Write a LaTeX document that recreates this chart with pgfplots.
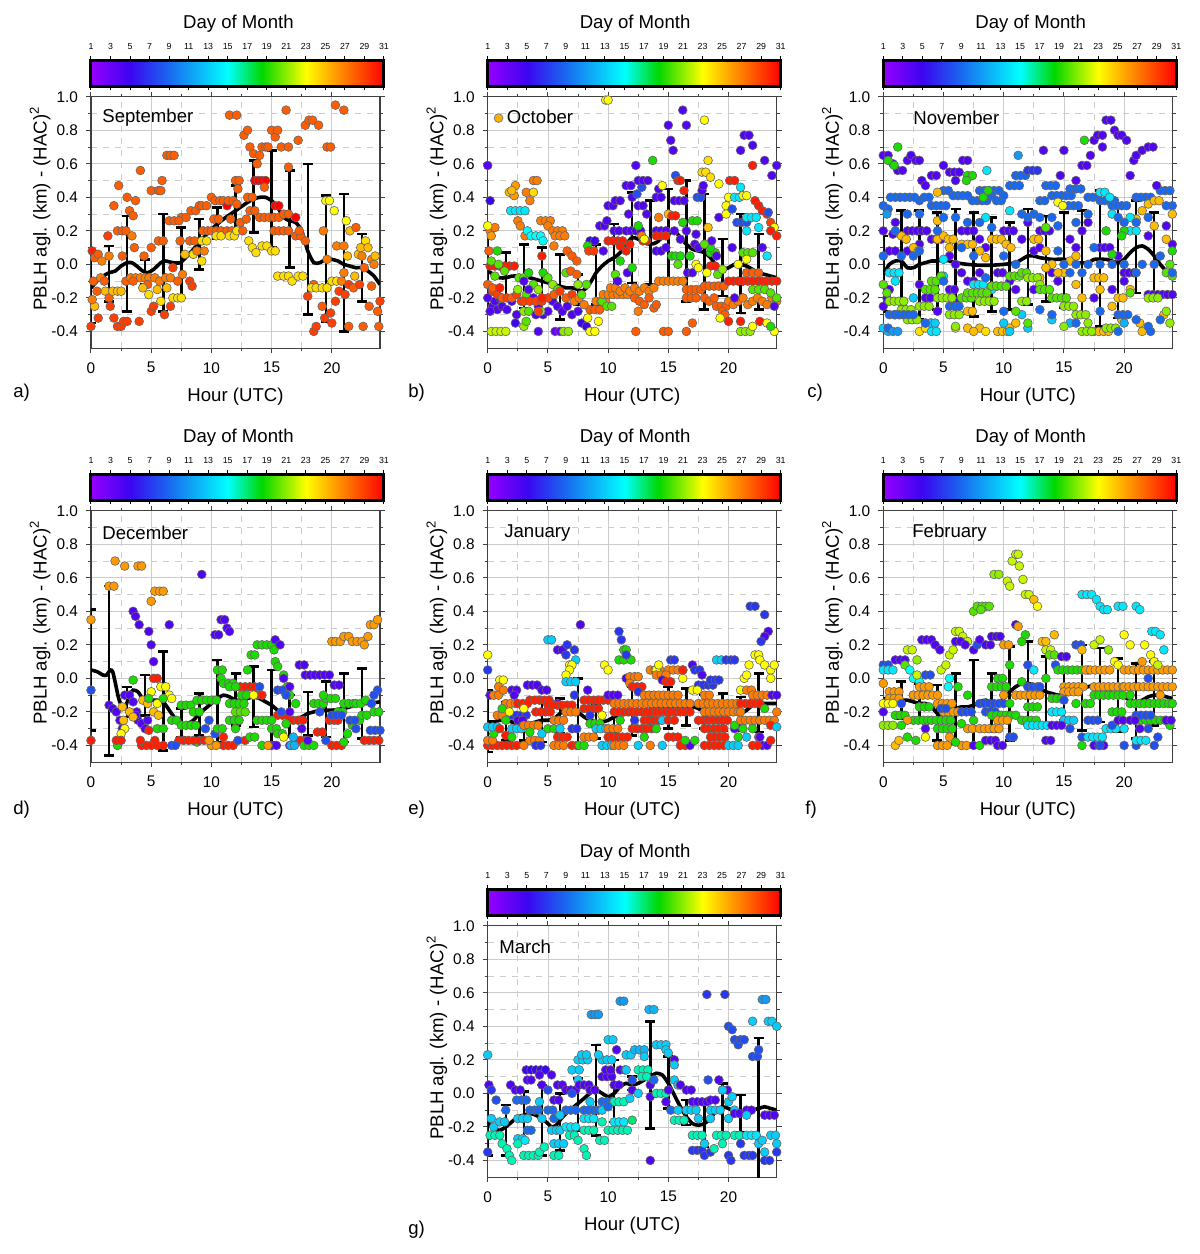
\documentclass[border=0pt]{standalone}
\usepackage{fontspec}
\setmainfont{Liberation Sans}
\usepackage{pgfplots}
\usepackage{pgfplotstable}
\usetikzlibrary{calc}
\pgfplotsset{compat=1.18}

\pgfplotsset{
  colormap={day}{rgb255(0cm)=(150,0,255) rgb255(4cm)=(60,5,240) rgb255(8cm)=(25,105,240) rgb255(14cm)=(0,255,255) rgb255(17.5cm)=(0,215,0) rgb255(22cm)=(255,255,0) rgb255(25cm)=(255,155,0) rgb255(30cm)=(255,0,0)},
  panel/.style={
    anchor=north west, width=144.5pt, height=125.75pt, scale only axis,
    xmin=0, xmax=24, ymin=-0.5, ymax=1.0,
    xtick={0,5,...,20}, ytick={-0.4,-0.2,...,1.0},
    minor x tick num=1, minor y tick num=1,
    grid=both,
    major grid style={gray!40, line width=0.4pt},
    minor grid style={gray!40, dashed, line width=0.4pt},
    tick align=outside, major tick length=2.5pt, minor tick length=1.6pt,
    axis line style={black!75, line width=0.6pt},
    every tick/.style={black!75, line width=0.5pt},
    xlabel={Hour (UTC)}, ylabel={PBLH agl. (km) - (HAC)\textsuperscript{2}},
    label style={font=\fontsize{9.3}{11}\selectfont},
    tick label style={font=\fontsize{7.7}{9}\selectfont},
    /pgf/number format/assume math mode=true,
    y tick label style={/pgf/number format/.cd, fixed, fixed zerofill, precision=1, /tikz/.cd, xshift=-0.5pt},
    x tick label style={yshift=-1pt},
    xlabel style={at={(axis description cs:0.5,-0.193)}, anchor=center},
    ylabel style={at={(axis description cs:-0.176,0.555)}, anchor=center},
    colormap name=day, point meta min=1, point meta max=31,
    colorbar horizontal,
    colorbar style={
      at={($(parent axis.north west)+(0pt,13.8pt)$)}, anchor=south west,
      width=146.5pt, height=13pt, scale only axis,
      xticklabel pos=upper, xtick={1,3,...,31}, ytick=\empty,
      tick align=outside, major tick length=2pt,
      every tick/.style={black, line width=0.5pt},
      tick label style={font=\fontsize{4.4}{5}\selectfont},
      /pgf/number format/assume math mode=true,
      axis line style={black, line width=1.5pt},
    },
  },
  pts/.style={scatter, only marks, mark=*, mark size=2.2pt, point meta=explicit,
    scatter/use mapped color={draw=black!60, fill=mapped color},
    mark options={line width=0.3pt}},
  meanline/.style={black, line width=1.8pt, smooth, tension=0.4},
  ebars/.style={only marks, mark=*, mark options={draw opacity=0, fill opacity=0}, forget plot,
    error bars/y dir=both, error bars/y explicit,
    error bars/error bar style={black, line width=1.25pt},
    error bars/error mark options={black, line width=1.25pt, mark size=2.5pt, rotate=90}},
}
\newcommand{\lbl}{\fontsize{9.3}{11}\selectfont}

\pgfplotstableread[row sep=\\]{x y c\\
0 -0.37 29\\ 0.1 0.08 30\\ 0.3 0.04 28\\ 0.2 -0.1 28\\ 0.5 -0.16 28\\ 0.3 -0.25 25\\ 0.6 -0.32 29\\ 0.1 -0.21 27\\ 0.6 0.06 28\\ 0.9 0.02 27\\ 0.8 -0.08 27\\ 1.1 -0.1 28\\ 1.2 -0.16 25\\ 1.4 0.17 29\\ 1.5 -0.2 28\\ 1.6 -0.25 29\\ 1.5 0.05 27\\ 1.9 0.35 28\\ 1.9 -0.32 29\\ 1.8 -0.16 25\\ 2.2 -0.16 25\\ 2.3 0.47 28\\ 2.2 0.2 28\\ 2.6 0.2 28\\ 2.9 0.2 28\\ 2.6 0.05 28\\ 2.2 -0.37 29\\ 2.5 -0.37 29\\ 2.7 -0.34 29\\ 2.5 -0.16 25\\ 2.9 -0.1 28\\
3.0 0.4 28\\ 3.2 0.32 28\\ 3.5 0.29 28\\ 3.7 0.38 28\\ 3.4 0.17 27\\ 3.6 0.1 28\\ 3.3 -0.08 27\\ 3.7 -0.08 27\\ 4.1 -0.08 27\\ 3.5 -0.1 28\\ 3.0 -0.34 29\\ 4.0 -0.34 29\\ 4.1 0.56 28\\ 4.4 0.05 28\\ 4.5 -0.08 27\\ 4.8 -0.08 27\\ 4.7 -0.12 28\\ 4.8 -0.18 24\\ 4.3 -0.14 25\\ 5.0 0.44 28\\ 5.0 -0.28 29\\ 5.2 -0.25 29\\ 5.0 0.1 28\\ 5.6 0.44 28\\ 5.8 0.44 28\\ 5.9 0.5 28\\ 5.6 0.14 28\\ 6.0 0.14 28\\ 5.3 -0.08 27\\ 5.7 -0.1 27\\ 5.5 -0.15 25\\ 5.8 -0.22 24\\ 6.1 -0.3 29\\
6.3 0.65 28\\ 6.6 0.65 28\\ 6.9 0.65 28\\ 6.5 0.26 28\\ 6.9 0.26 28\\ 6.2 -0.08 27\\ 6.6 -0.08 27\\ 6.8 -0.02 29\\ 6.8 -0.2 24\\ 7.2 -0.2 24\\ 6.6 -0.25 29\\ 6.3 -0.14 25\\ 7.5 0.28 28\\ 7.9 0.28 28\\ 7.3 0.26 28\\ 7.4 0.14 28\\ 7.6 -0.06 27\\ 7.2 -0.1 28\\ 7.5 -0.2 24\\ 8.2 -0.1 29\\ 8.4 -0.13 29\\ 7.8 0.06 25\\ 8.3 0.32 28\\ 8.7 0.32 28\\ 8.2 0.14 28\\ 8.6 0.14 28\\ 8.5 0.06 24\\ 8.8 0.08 27\\
9.0 0.35 28\\ 9.2 0.35 28\\ 9.6 0.35 28\\ 9.3 0.2 28\\ 9.7 0.2 28\\ 9.2 0.14 24\\ 9.6 0.14 24\\ 9.4 0.08 27\\ 9.2 0.02 24\\ 10.0 0.4 28\\ 10.3 0.38 28\\ 10.7 0.38 28\\ 11.0 0.38 28\\ 10.0 0.2 28\\ 10.4 0.2 28\\ 10.8 0.2 28\\ 10.2 0.27 28\\ 10.6 0.27 28\\ 10.4 0.17 24\\ 10.8 0.17 24\\ 11.3 0.35 31\\ 11.5 0.89 28\\ 11.4 0.38 28\\ 11.8 0.38 28\\ 11.3 0.2 28\\ 11.7 0.2 28\\ 11.5 0.17 24\\ 11.9 0.17 24\\ 11.6 0.27 28\\
12.1 0.89 28\\ 12.0 0.5 28\\ 12.3 0.5 28\\ 12.2 0.45 28\\ 12.1 0.36 28\\ 12.4 0.25 28\\ 12.1 0.2 24\\ 12.6 0.2 28\\ 12.7 0.77 28\\ 13.0 0.8 28\\ 12.9 0.27 28\\ 13.2 0.7 28\\ 13.5 0.66 28\\ 13.8 0.6 28\\ 13.6 0.5 31\\ 13.9 0.5 31\\ 14.2 0.5 31\\ 14.5 0.5 31\\ 13.2 0.32 28\\ 13.6 0.32 28\\ 13.1 0.14 24\\ 13.4 0.1 24\\ 13.7 0.07 24\\ 13.0 0.4 28\\ 13.4 0.4 28\\ 14.2 0.7 28\\ 14.5 0.7 28\\ 14.7 0.7 28\\ 14.0 0.65 28\\ 14.4 0.46 28\\ 14.0 0.28 28\\ 14.4 0.28 28\\ 14.8 0.28 28\\ 14.2 0.11 24\\ 14.6 0.11 24\\
15.0 0.8 28\\ 15.3 0.76 28\\ 15.5 0.8 28\\ 15.8 0.7 28\\ 15.3 0.35 31\\ 15.6 0.35 31\\ 15.2 0.28 28\\ 15.6 0.28 28\\ 15.2 0.2 28\\ 15.6 0.2 28\\ 15.0 0.08 24\\ 15.3 0.08 24\\ 15.5 -0.07 24\\ 16.2 0.92 28\\ 16.4 0.7 28\\ 16.4 0.58 28\\ 16.0 0.3 28\\ 16.4 0.3 28\\ 16.0 0.2 28\\ 16.4 0.2 28\\ 16.0 -0.07 24\\ 16.4 -0.07 24\\ 16.7 -0.1 24\\ 17.2 0.74 28\\ 17.8 0.83 28\\ 17.0 0.28 31\\ 17.0 0.17 28\\ 17.4 0.17 28\\ 17.3 0.2 28\\ 17.2 -0.07 24\\ 17.6 -0.07 24\\ 17.8 0.14 28\\
18.1 0.86 28\\ 18.4 0.86 28\\ 18.9 0.83 28\\ 18.0 -0.19 29\\ 18.5 -0.12 28\\ 18.5 -0.4 29\\ 18.7 -0.37 29\\ 18.3 -0.14 24\\ 18.7 -0.14 24\\ 19.6 0.7 28\\ 19.9 0.7 28\\ 19.5 0.38 23\\ 19.8 0.38 23\\ 19.3 0.2 27\\ 19.6 0.03 27\\ 19.2 -0.14 24\\ 19.6 -0.14 24\\ 19.2 -0.25 28\\ 19.4 -0.32 29\\ 19.9 -0.29 29\\ 20.0 -0.35 29\\ 20.3 0.95 28\\ 20.2 0.32 23\\ 20.4 0.11 27\\ 20.0 -0.1 24\\ 20.4 -0.1 24\\ 20.3 -0.22 29\\ 20.6 -0.16 29\\
21.0 0.92 28\\ 21.2 0.26 23\\ 21.0 0.11 27\\ 21.5 0.2 25\\ 21.3 0.05 25\\ 21.0 -0.05 27\\ 21.4 -0.12 29\\ 21.1 -0.18 29\\ 21.4 -0.37 28\\ 20.8 -0.1 27\\ 21.8 -0.14 28\\ 22.0 0.22 28\\ 22.2 0.06 25\\ 21.9 -0.07 25\\ 22.3 -0.12 29\\ 22.6 -0.37 28\\ 22.8 0.14 24\\ 22.4 0.1 25\\ 23.0 0.1 25\\ 23.3 0.03 27\\ 23.5 0.0 27\\ 23.3 -0.13 28\\ 23.1 -0.25 28\\ 23.8 -0.28 28\\ 23.9 -0.37 28\\ 24.0 -0.22 29\\ 23.6 0.05 25\\ 22.7 -0.02 28\\ 22.5 0.05 27\\
}\dataA

\pgfplotstableread[row sep=\\]{x y c\\
0 0.59 4\\ 0.2 0.38 5\\ 0 -0.2 4\\ 0.4 -0.25 4\\ 0.8 -0.27 4\\ 1.2 -0.25 4\\ 1.6 -0.27 4\\ 2.0 -0.22 4\\ 2.4 -0.3 4\\ 0.2 -0.28 4\\ 0.6 -0.22 4\\ 1.0 -0.2 4\\ 0.2 -0.01 30\\ 0.6 -0.01 30\\ 1.0 -0.01 30\\ 1.4 -0.01 30\\ 1.8 -0.01 30\\ 2.2 -0.01 30\\ 0 -0.12 28\\ 0.4 -0.16 29\\ 0.8 -0.18 29\\ 1.2 -0.2 28\\ 1.6 -0.2 29\\ 2.0 -0.2 28\\ 2.4 -0.18 29\\ 2.8 -0.22 29\\ 0.4 -0.14 28\\ 1.0 -0.14 30\\ 0.3 -0.4 22\\ 0.7 -0.4 22\\ 1.1 -0.4 22\\ 1.5 -0.4 22\\ 0.2 0.2 27\\ 0.6 0.22 27\\ 0.1 0.08 28\\ 0.8 0.08 19\\ 0.3 0.02 20\\ 0.9 0.0 20\\ 1.4 -0.04 20\\ 0.6 -0.07 20\\ 0 0.23 23\\ 0.3 0.17 26\\
1.8 0.43 25\\ 2.3 0.47 26\\ 2.2 0.41 26\\ 2.0 0.44 25\\ 1.9 0.32 14\\ 2.3 0.32 14\\ 2.7 0.32 14\\ 3.1 0.32 14\\ 2.5 0.26 27\\ 2.7 0.23 27\\ 3.1 0.17 27\\ 3.2 0.43 27\\ 3.5 0.38 27\\ 3.8 0.5 27\\ 4.1 0.5 27\\ 3.8 0.43 24\\ 3.3 0.2 15\\ 3.6 0.17 15\\ 4.0 0.17 15\\ 4.4 0.17 15\\ 4.6 0.14 15\\ 4.4 0.26 27\\ 4.8 0.26 27\\ 5.2 0.26 27\\ 5.0 0.23 27\\ 5.4 0.2 27\\ 5.8 0.2 27\\ 6.2 0.2 27\\ 5.6 0.17 27\\ 6.0 0.17 27\\ 6.4 0.17 27\\ 5.5 0.11 27\\ 4.5 0.05 30\\
2.6 -0.08 20\\ 3.0 -0.08 20\\ 3.4 -0.05 19\\ 3.8 -0.12 20\\ 4.2 -0.15 21\\ 4.6 -0.05 19\\ 5.0 -0.08 20\\ 5.4 -0.12 21\\ 5.8 -0.15 20\\ 2.5 -0.15 21\\ 3.2 -0.18 20\\ 3.0 -0.1 4\\ 3.4 -0.15 4\\ 3.8 -0.2 4\\ 4.2 -0.25 4\\ 4.6 -0.3 4\\ 5.0 -0.28 4\\ 5.4 -0.22 4\\ 5.8 -0.25 4\\ 6.2 -0.28 4\\ 6.6 -0.25 4\\ 7.0 -0.3 4\\ 4.0 -0.3 4\\ 4.4 -0.28 21\\ 3.0 -0.28 21\\ 3.4 -0.28 20\\ 2.3 -0.35 5\\ 3.0 -0.37 21\\ 3.2 -0.34 20\\ 4.2 -0.4 4\\ 5.6 -0.4 3\\ 6.0 -0.4 3\\ 6.3 -0.4 21\\ 6.7 -0.4 21\\ 3.0 -0.22 29\\ 3.5 -0.22 29\\ 4.0 -0.22 29\\ 4.5 -0.22 29\\ 5.0 -0.2 29\\ 5.5 -0.18 28\\ 6.0 -0.16 29\\ 6.5 -0.2 28\\ 7.0 -0.18 29\\ 4.2 -0.28 29\\ 4.5 -0.2 30\\
6.6 0.08 28\\ 7.0 0.05 28\\ 7.4 0.02 28\\ 6.5 -0.05 20\\ 6.9 -0.04 28\\ 7.4 -0.06 28\\ 7.5 -0.28 4\\ 7.8 -0.35 5\\ 8.2 -0.37 5\\ 8.3 -0.32 23\\ 8.5 -0.4 23\\ 8.9 -0.4 23\\ 8.5 0.14 5\\ 8.9 0.14 5\\ 8.3 0.11 19\\ 8.4 0.08 29\\ 8.8 0.08 29\\ 8.5 -0.27 28\\ 8.9 -0.27 28\\ 9.3 -0.27 28\\ 9.0 -0.22 27\\ 9.4 -0.22 27\\ 9.8 -0.22 27\\ 9.2 -0.34 23\\ 7.2 -0.22 27\\ 7.6 -0.2 27\\ 8.0 -0.24 27\\ 7.8 -0.18 20\\ 8.2 -0.12 20\\ 7.5 -0.12 21\\
9.3 0.23 4\\ 9.7 0.23 4\\ 9.9 0.26 4\\ 10.0 0.35 4\\ 10.4 0.35 4\\ 10.6 0.38 4\\ 11.0 0.38 4\\ 10.5 0.2 4\\ 10.9 0.2 4\\ 9.6 0.08 4\\ 10.0 0.14 30\\ 10.4 0.14 30\\ 10.8 0.14 30\\ 11.2 0.14 30\\ 11.0 0.11 30\\ 11.5 0.08 30\\ 9.8 0.98 23\\ 10.0 0.98 23\\ 9.5 -0.22 20\\ 9.9 -0.25 20\\ 10.3 -0.25 20\\ 9.6 -0.18 27\\ 10.0 -0.18 27\\ 10.4 -0.18 27\\ 10.8 -0.18 27\\ 11.2 -0.18 27\\ 11.6 -0.18 27\\ 10.2 -0.14 27\\ 10.6 -0.14 27\\ 11.0 -0.16 27\\ 11.4 -0.14 27\\ 11.8 -0.16 27\\ 12.2 -0.14 27\\ 12.6 -0.16 27\\ 13.0 -0.14 27\\ 13.4 -0.16 27\\ 13.8 -0.14 27\\ 10.6 -0.06 20\\ 11.0 0.02 19\\ 10.8 -0.1 4\\
11.5 0.47 4\\ 11.9 0.47 4\\ 12.0 0.4 4\\ 12.4 0.42 8\\ 12.8 0.46 8\\ 12.3 0.59 4\\ 12.5 0.5 4\\ 12.9 0.5 4\\ 13.3 0.5 4\\ 12.5 0.35 4\\ 12.9 0.35 4\\ 13.2 0.3 4\\ 11.5 0.2 4\\ 11.9 0.2 4\\ 12.3 0.2 4\\ 12.7 0.2 4\\ 11.7 0.3 4\\ 12.5 0.23 19\\ 12.8 0.17 27\\ 12.9 0.14 30\\ 13.2 0.14 30\\ 13.0 0.15 23\\ 11.8 0.12 30\\ 11.6 -0.05 4\\ 12.0 -0.02 19\\ 12.5 -0.28 27\\ 12.3 -0.4 28\\ 12.2 -0.2 28\\ 12.6 -0.22 28\\ 13.0 -0.24 28\\ 13.4 -0.2 28\\ 13.8 -0.26 28\\ 14.0 -0.24 28\\
13.7 0.62 19\\ 14.0 0.4 4\\ 14.4 0.4 4\\ 14.2 0.45 4\\ 14.5 0.47 23\\ 14.2 0.28 27\\ 14.0 0.2 4\\ 14.4 0.2 4\\ 14.8 0.2 4\\ 14.0 0.08 4\\ 14.4 0.08 4\\ 14.8 0.1 4\\ 14.0 0.17 30\\ 14.4 0.17 30\\ 14.8 0.17 30\\ 14.2 -0.1 27\\ 14.6 -0.1 27\\ 15.0 -0.1 27\\ 15.4 -0.1 27\\ 15.8 -0.1 27\\ 16.2 -0.1 27\\ 14.6 -0.4 28\\ 15.0 -0.4 28\\ 15.0 0.3 25\\ 15.0 0.83 4\\ 15.2 0.74 4\\ 15.4 0.68 4\\ 15.6 0.53 8\\ 15.8 0.5 30\\ 16.0 0.5 30\\ 15.3 0.29 30\\ 15.6 0.29 30\\ 16.3 0.44 30\\ 15.3 0.05 19\\ 15.6 0.05 19\\ 16.0 0.05 19\\ 15.8 0.0 20\\ 16.2 0.92 4\\ 16.5 0.83 4\\ 15.5 0.38 4\\ 15.9 0.38 4\\ 16.3 0.38 4\\ 16.0 0.15 4\\ 15.5 0.2 4\\ 16.2 0.25 19\\ 16.5 0.2 4\\
17.0 -0.35 28\\ 16.5 -0.4 28\\ 16.5 -0.2 28\\ 16.9 -0.2 28\\ 17.3 -0.2 28\\ 16.5 -0.15 28\\ 16.9 -0.15 28\\ 17.3 -0.15 28\\ 17.7 -0.15 28\\ 16.6 -0.05 4\\ 16.8 0.05 19\\ 17.2 0.12 4\\ 17.4 0.4 8\\ 17.7 0.4 8\\ 17.8 0.44 4\\ 17.9 0.47 4\\ 18.0 0.86 23\\ 17.8 0.55 24\\ 18.1 0.55 24\\ 18.3 0.62 24\\ 18.5 0.52 24\\ 19.2 0.48 23\\ 17.0 0.26 19\\ 17.4 0.26 19\\ 18.3 0.22 25\\ 17.3 0.18 4\\ 17.5 0.1 4\\ 17.0 -0.05 4\\ 18.5 0.07 19\\ 18.9 0.07 19\\ 17.3 0.0 23\\ 17.5 -0.02 23\\ 19.0 0.05 4\\ 18.5 0.1 19\\ 19.2 0.28 4\\ 18.6 0.14 4\\ 18.0 0.12 20\\
19.0 -0.25 28\\ 19.4 -0.25 28\\ 19.8 -0.25 28\\ 19.5 -0.28 28\\ 19.7 -0.3 28\\ 19.3 -0.32 23\\ 20.0 -0.34 30\\ 18.0 -0.13 28\\ 18.4 -0.13 28\\ 18.8 -0.13 28\\ 19.2 -0.13 28\\ 19.6 -0.13 28\\ 18.5 -0.01 30\\ 18.9 -0.01 30\\ 18.0 -0.2 28\\ 18.4 -0.22 28\\ 18.8 -0.2 28\\ 19.1 -0.06 20\\ 19.5 -0.03 21\\ 18.2 -0.05 23\\
20.0 0.4 23\\ 19.8 0.35 23\\ 19.8 0.3 23\\ 20.5 0.4 14\\ 20.9 0.4 14\\ 21.0 0.46 14\\ 20.3 0.33 8\\ 20.1 0.5 30\\ 20.5 0.5 30\\ 20.7 0.25 8\\ 21.1 0.25 8\\ 21.5 0.25 8\\ 21.5 0.2 14\\ 21.5 0.28 14\\ 21.9 0.28 14\\ 22.3 0.28 14\\ 21.2 0.41 23\\ 21.5 0.41 23\\ 21.0 0.68 4\\ 21.3 0.77 4\\ 21.7 0.77 4\\ 22.0 0.71 4\\ 22.0 0.59 30\\ 22.2 0.38 30\\ 22.5 0.35 30\\ 22.8 0.32 30\\ 23.2 0.3 30\\ 23.5 0.25 29\\ 22.5 0.22 14\\ 23.3 0.31 8\\ 23.0 0.62 4\\ 23.6 0.53 4\\ 24.0 0.59 4\\ 23.8 0.22 23\\ 24.0 0.17 30\\ 23.5 0.2 30\\
20.0 -0.22 27\\ 20.4 -0.24 27\\ 20.8 -0.22 27\\ 21.2 -0.2 27\\ 21.6 -0.24 27\\ 22.0 -0.22 27\\ 22.4 -0.2 27\\ 22.8 -0.22 27\\ 23.2 -0.24 27\\ 23.6 -0.2 27\\ 24.0 -0.22 27\\ 21.0 -0.34 30\\ 22.6 -0.34 30\\ 21.0 -0.4 21\\ 21.4 -0.4 21\\ 21.8 -0.4 21\\ 22.0 -0.37 23\\ 23.2 -0.35 23\\ 23.8 -0.4 23\\ 23.5 -0.37 19\\ 20.0 -0.1 30\\ 20.4 -0.1 30\\ 20.8 -0.1 30\\ 21.2 -0.1 30\\ 21.6 -0.1 30\\ 22.0 -0.1 30\\ 22.4 -0.1 30\\ 22.8 -0.1 30\\ 23.2 -0.1 30\\ 23.6 -0.1 30\\ 24.0 -0.1 30\\ 21.5 -0.05 28\\ 22.0 -0.05 28\\ 22.5 -0.05 28\\ 22.0 -0.15 20\\ 22.5 -0.15 20\\ 23.0 -0.15 20\\ 23.5 -0.17 20\\ 24.0 -0.2 20\\ 20.5 -0.2 4\\ 21.2 0.07 20\\ 21.6 0.07 20\\ 22.0 0.07 20\\ 23.2 0.05 14\\ 21.5 0.03 23\\ 20.8 0.0 23\\ 22.8 0.1 4\\ 23.8 -0.25 4\\ 20.3 0.1 4\\
}\dataB

\pgfplotstableread[row sep=\\]{x y c\\
0 0.65 4\\ 0.4 0.65 4\\ 0.8 0.6 4\\ 1.2 0.56 4\\ 1.6 0.56 4\\ 2.0 0.62 4\\ 2.3 0.65 4\\ 2.7 0.62 4\\ 3.0 0.62 4\\ 3.2 0.5 4\\ 3.5 0.47 4\\ 4.0 0.53 4\\ 4.4 0.53 4\\ 5.0 0.59 4\\ 5.5 0.55 4\\ 5.9 0.55 4\\ 6.3 0.55 4\\ 6.0 0.5 4\\ 6.6 0.62 4\\ 7.0 0.62 4\\ 0.4 0.62 19\\ 0.9 0.59 19\\ 1.2 0.7 19\\
0.6 0.4 9\\ 1.0 0.4 9\\ 1.4 0.4 9\\ 1.8 0.4 9\\ 2.2 0.4 9\\ 2.6 0.4 9\\ 3.0 0.38 9\\ 3.4 0.4 9\\ 3.8 0.4 9\\ 0 0.35 9\\ 0.4 0.33 9\\ 0.3 0.3 11\\ 4.0 0.35 9\\ 4.4 0.35 9\\ 4.8 0.35 9\\ 5.2 0.35 9\\ 5.0 0.44 9\\ 5.4 0.44 9\\ 5.8 0.41 9\\ 6.2 0.41 9\\ 6.6 0.41 9\\ 7.0 0.41 9\\ 7.4 0.38 9\\ 7.8 0.38 9\\ 8.2 0.38 9\\ 8.6 0.38 9\\ 9.0 0.41 9\\ 9.4 0.38 9\\ 9.8 0.38 9\\ 8.0 0.44 9\\ 8.4 0.44 9\\ 8.8 0.44 9\\ 9.2 0.44 9\\ 9.6 0.44 9\\ 10.0 0.41 9\\ 10.5 0.47 9\\ 10.9 0.47 9\\ 11.3 0.47 9\\ 11.0 0.53 9\\ 11.4 0.53 9\\ 11.8 0.53 9\\ 12.0 0.56 7\\ 12.4 0.56 7\\ 12.8 0.56 7\\ 13.5 0.47 9\\ 13.9 0.47 9\\ 14.3 0.47 9\\ 14.0 0.41 9\\ 14.4 0.41 9\\ 14.8 0.41 9\\ 15.2 0.41 9\\ 15.6 0.41 9\\ 13.0 0.38 9\\ 13.4 0.38 9\\ 15.0 0.35 9\\ 15.4 0.35 9\\ 15.8 0.35 9\\ 16.2 0.35 9\\ 15.5 0.45 9\\ 16.0 0.45 9\\ 16.4 0.45 9\\ 17.0 0.4 9\\ 17.4 0.4 9\\ 17.8 0.4 9\\ 18.0 0.38 9\\ 18.4 0.38 9\\ 18.8 0.38 9\\ 19.2 0.38 9\\ 19.0 0.35 9\\ 19.4 0.35 9\\ 19.8 0.35 9\\ 20.2 0.35 9\\ 21.0 0.4 9\\ 21.4 0.4 9\\ 21.8 0.4 9\\ 22.2 0.4 9\\ 23.0 0.44 9\\ 23.4 0.44 9\\ 23.8 0.44 9\\ 24.0 0.35 9\\ 23.5 0.35 9\\
0 0.2 4\\ 0.5 0.08 4\\ 1.0 0.25 4\\ 0.8 0.18 4\\ 2.0 0.2 4\\ 2.4 0.2 4\\ 2.8 0.2 4\\ 3.2 0.2 4\\ 3.6 0.2 4\\ 4.0 0.15 4\\ 4.4 0.15 4\\ 4.8 0.15 4\\ 3.0 0.12 4\\ 2.0 0.08 4\\ 1.0 0.08 4\\ 0 0.05 9\\ 0.5 -0.15 4\\ 0.3 -0.2 4\\ 0 -0.25 4\\ 1.0 -0.3 4\\ 4.5 -0.28 4\\ 3.5 -0.2 4\\ 3.9 -0.2 4\\ 3.0 -0.12 4\\ 5.5 -0.15 4\\ 5.9 -0.15 4\\ 6.0 -0.22 4\\ 9.0 -0.13 4\\ 9.4 -0.13 4\\ 9.8 -0.13 4\\ 10.5 -0.1 4\\ 9.5 -0.05 4\\ 9.9 -0.05 4\\ 12.5 -0.15 4\\ 14.0 -0.05 4\\ 14.5 -0.1 4\\ 11.0 -0.15 4\\ 10.0 0.2 4\\ 10.4 0.2 4\\ 10.8 0.2 4\\ 12.0 0.25 4\\ 13.0 0.2 4\\ 13.4 0.2 4\\ 13.8 0.2 4\\ 17.5 -0.2 4\\ 19.0 -0.15 4\\ 20.0 -0.1 4\\ 22.0 -0.18 4\\ 22.4 -0.18 4\\ 22.8 -0.18 4\\ 23.2 -0.18 4\\ 23.6 -0.18 4\\ 24.0 -0.18 4\\ 23.5 0.23 4\\ 22.0 0.17 4\\ 24.0 0.12 4\\ 19.5 0.05 4\\ 20.0 -0.05 4\\ 20.4 -0.05 4\\ 20.8 -0.05 4\\ 18.0 0.1 4\\ 18.4 0.1 4\\ 18.8 0.1 4\\ 6.5 0.2 4\\ 7.0 0.2 4\\ 7.5 0.2 4\\ 8.0 0.15 4\\ 8.5 0.1 4\\ 5.5 0.05 4\\ 6.0 0.0 4\\ 6.5 -0.05 4\\ 7.0 -0.1 4\\ 7.5 -0.1 4\\ 8.0 -0.05 4\\ 15.5 0.15 4\\ 16.0 0.1 4\\ 16.5 0.2 4\\ 17.0 0.25 4\\ 12.5 0.08 4\\ 13.0 0.1 4\\ 11.5 0.15 4\\
17.2 0.65 4\\ 17.5 0.74 4\\ 17.8 0.77 4\\ 18.2 0.77 4\\ 18.2 0.7 4\\ 18.5 0.86 4\\ 18.9 0.86 4\\ 19.2 0.8 4\\ 19.5 0.77 4\\ 19.8 0.77 4\\ 20.2 0.74 4\\ 20.5 0.53 4\\ 20.8 0.62 4\\ 21.0 0.65 4\\ 21.5 0.68 4\\ 22.0 0.7 4\\ 22.4 0.7 4\\ 22.7 0.47 4\\ 16.5 0.59 4\\ 16.9 0.59 4\\ 15.0 0.68 4\\ 13.3 0.68 4\\ 14.7 0.53 4\\ 16.0 0.5 4\\ 11.2 0.65 11\\
1.5 0.17 25\\ 1.9 0.15 25\\ 2.5 0.1 25\\ 2.9 0.08 25\\ 4.5 0.15 25\\ 5.0 0.17 25\\ 5.4 0.15 25\\ 5.8 0.15 25\\ 6.5 0.12 25\\ 7.0 0.12 25\\ 7.4 0.12 25\\ 8.0 0.08 25\\ 8.5 0.04 25\\ 9.0 0.15 25\\ 9.4 0.15 25\\ 9.8 0.15 25\\ 10.2 0.12 25\\ 10.6 0.1 25\\ 4.5 0.43 25\\ 4.5 0.26 25\\ 5.5 0.1 25\\ 7.0 -0.28 25\\ 7.4 -0.28 25\\ 7.0 -0.38 25\\ 8.0 -0.38 25\\ 7.5 -0.4 25\\ 9.5 -0.4 25\\ 9.9 -0.4 25\\ 10.3 -0.4 25\\ 10.5 -0.38 25\\ 11.0 -0.35 25\\ 12.5 0.15 25\\ 12.9 0.15 25\\ 13.5 0.08 25\\ 14.0 0.0 25\\ 15.0 -0.05 25\\ 16.0 -0.12 25\\ 16.5 -0.2 25\\ 14.5 0.37 23\\ 14.9 0.35 23\\ 17.5 -0.08 25\\ 17.9 -0.08 25\\ 18.3 -0.08 25\\ 18.0 -0.15 25\\ 19.0 -0.25 25\\ 19.5 -0.2 25\\ 19.9 -0.2 25\\ 20.5 -0.15 25\\ 19.8 -0.33 25\\ 17.5 -0.4 25\\ 17.9 -0.4 25\\ 18.3 -0.4 25\\ 18.7 -0.4 25\\ 21.0 0.27 25\\ 21.5 0.32 25\\ 22.0 0.36 25\\ 22.5 0.38 25\\ 22.9 0.38 25\\ 22.5 0.23 25\\ 21.5 -0.4 25\\ 21.3 -0.35 25\\ 3.0 -0.4 24\\ 3.5 -0.38 24\\ 4.0 -0.35 24\\ 6.0 -0.38 24\\ 8.5 -0.4 24\\ 13.0 -0.08 25\\ 13.5 -0.02 25\\ 14.5 -0.05 25\\ 15.5 0.02 25\\ 16.0 0.05 25\\ 23.5 0.15 25\\ 24.0 0.3 25\\ 23.3 -0.3 25\\
0.5 -0.05 14\\ 0.9 -0.05 14\\ 1.3 -0.05 14\\ 1.0 -0.1 14\\ 1.0 -0.3 13\\ 1.4 -0.3 13\\ 1.8 -0.3 13\\ 2.2 -0.3 13\\ 3.5 -0.35 13\\ 3.9 -0.35 13\\ 4.3 -0.35 13\\ 4.0 -0.4 14\\ 4.4 -0.4 14\\ 5.0 0.03 14\\ 5.0 -0.07 14\\ 7.5 -0.12 14\\ 7.9 -0.12 14\\ 8.3 -0.12 14\\ 9.0 -0.15 14\\ 8.5 0.28 14\\ 8.6 0.56 14\\ 10.5 0.32 14\\ 10.0 -0.35 13\\ 10.5 -0.4 13\\ 18.0 0.43 14\\ 18.4 0.43 14\\ 18.8 0.4 14\\ 19.0 0.3 14\\ 14.0 -0.33 13\\ 15.5 -0.35 12\\ 20.5 0.28 14\\ 20.5 0.2 14\\ 21.0 0.2 14\\ 0 -0.38 13\\ 0.4 -0.4 12\\ 2.5 -0.2 13\\ 6.0 -0.25 13\\ 11.5 -0.3 13\\ 12.0 -0.38 13\\ 20.0 -0.35 12\\
0 -0.12 20\\ 0.3 -0.17 20\\ 0.5 -0.22 21\\ 0.9 -0.22 21\\ 1.3 -0.22 21\\ 1.7 -0.22 21\\ 1.5 -0.27 21\\ 1.9 -0.27 21\\ 2.3 -0.27 21\\ 2.0 -0.33 21\\ 2.4 -0.33 21\\ 2.8 -0.33 21\\ 3.5 -0.15 20\\ 3.9 -0.15 20\\ 4.3 -0.15 20\\ 4.0 -0.1 20\\ 4.4 -0.1 20\\ 4.8 -0.07 20\\ 4.5 -0.2 21\\ 4.9 -0.2 21\\ 5.3 -0.2 21\\ 5.7 -0.2 21\\ 3.0 -0.25 21\\ 3.4 -0.25 21\\ 3.8 -0.25 21\\ 5.5 -0.3 21\\ 5.9 -0.3 21\\ 6.3 -0.3 21\\ 6.0 -0.37 21\\ 6.5 -0.2 20\\ 6.9 -0.2 20\\ 7.3 -0.2 20\\ 7.0 -0.17 20\\ 7.4 -0.17 20\\ 7.8 -0.17 20\\ 8.2 -0.17 20\\ 8.6 -0.17 20\\ 8.0 -0.22 21\\ 8.4 -0.22 21\\ 8.8 -0.22 21\\ 9.2 -0.22 21\\ 9.0 -0.13 20\\ 9.4 -0.13 20\\ 9.8 -0.13 20\\ 10.2 -0.13 20\\ 10.5 -0.07 20\\ 10.9 -0.07 20\\ 11.3 -0.07 20\\ 11.5 -0.05 20\\ 11.9 -0.05 20\\ 7.0 0.53 19\\ 7.4 0.53 19\\ 6.9 0.5 19\\ 8.3 0.4 19\\ 8.7 0.44 19\\ 11.0 -0.28 20\\ 11.5 -0.22 21\\ 11.9 -0.22 21\\ 12.0 -0.35 20\\ 12.0 -0.08 21\\ 12.4 -0.08 21\\ 12.8 -0.08 21\\ 13.0 -0.12 21\\ 13.5 0.22 20\\ 13.0 -0.15 20\\ 13.4 -0.15 20\\ 13.8 -0.15 20\\ 14.0 -0.2 20\\ 14.4 -0.2 20\\ 14.8 -0.2 20\\ 15.2 -0.2 20\\ 15.0 -0.25 21\\ 15.4 -0.25 21\\ 15.8 -0.25 21\\ 15.0 -0.37 21\\ 16.0 -0.3 21\\ 16.4 -0.3 21\\ 16.8 -0.3 21\\ 16.5 -0.4 21\\ 16.9 -0.4 21\\ 17.3 -0.4 21\\ 16.7 0.74 19\\ 17.0 -0.35 21\\ 18.5 -0.38 21\\ 18.9 -0.38 21\\ 19.3 -0.38 21\\ 18.5 0.2 19\\ 19.0 0.06 19\\ 20.0 0.2 19\\ 19.8 0.17 19\\ 20.5 -0.17 20\\ 22.0 -0.2 21\\ 22.4 -0.2 21\\ 22.8 -0.2 21\\ 23.5 -0.05 20\\ 23.8 0.0 20\\ 24.0 -0.07 20\\ 24.0 0.08 19\\ 23.5 -0.28 21\\ 23.8 -0.35 21\\
0.5 -0.3 9\\ 0.9 -0.3 9\\ 1.3 -0.3 9\\ 1.7 -0.3 9\\ 2.1 -0.3 9\\ 2.5 -0.3 9\\ 0.4 -0.38 9\\ 0.8 -0.4 11\\ 1.2 -0.4 11\\ 3.5 -0.35 9\\ 5.5 -0.25 9\\ 5.9 -0.25 9\\ 6.3 -0.25 9\\ 10.0 -0.28 9\\ 13.0 -0.27 9\\ 14.0 -0.3 9\\ 16.0 -0.35 9\\ 18.0 -0.28 9\\ 19.5 -0.3 9\\ 19.9 -0.3 9\\ 20.3 -0.3 9\\ 19.5 -0.4 9\\ 21.0 -0.33 9\\ 22.0 -0.37 9\\ 22.2 -0.4 9\\ 23.0 -0.33 9\\ 15.0 0.0 9\\ 15.5 -0.05 9\\ 16.0 0.0 9\\ 16.5 -0.05 9\\ 17.0 0.0 9\\ 17.5 0.1 9\\ 18.0 0.0 9\\ 19.0 0.0 9\\ 20.0 0.0 9\\ 21.0 -0.05 9\\ 21.5 0.0 9\\ 22.5 0.0 9\\ 23.0 0.05 9\\ 24.0 -0.05 9\\ 1.0 0.2 9\\ 4.5 0.2 9\\ 1.5 0.05 9\\ 2.5 0.05 9\\ 3.0 0.08 9\\ 14.5 0.08 9\\ 5.0 -0.1 9\\ 6.5 0.1 9\\ 7.5 0.05 9\\ 8.5 -0.08 9\\ 10.0 0.05 9\\ 11.0 0.0 9\\ 11.5 0.3 9\\ 12.0 0.28 9\\ 12.5 0.3 9\\ 13.0 0.28 9\\ 14.0 0.28 9\\ 14.5 0.23 9\\ 16.0 0.25 9\\ 17.0 0.3 9\\ 19.5 0.28 9\\ 20.0 0.25 9\\ 21.0 0.25 9\\ 22.0 0.28 9\\ 2.0 0.3 9\\ 3.0 0.3 9\\ 5.0 0.28 9\\ 6.0 0.28 9\\ 7.0 0.25 9\\ 8.0 0.25 9\\ 9.0 0.22 9\\
}\dataC

\pgfplotstableread[row sep=\\]{x y c\\
0 0.35 26\\ 0 -0.37 30\\ 0 -0.07 8\\ 1.5 0.55 26\\ 1.9 0.55 26\\ 2.0 0.7 26\\ 2.8 0.67 26\\ 3.9 0.67 26\\ 4.2 0.67 26\\ 5.0 0.46 26\\ 5.3 0.52 26\\ 5.7 0.52 26\\ 6.0 0.52 26\\ 1.5 -0.16 4\\ 1.8 -0.18 4\\ 2.1 -0.2 4\\ 2.4 -0.25 4\\ 2.6 -0.3 4\\ 3.5 0.4 4\\ 3.7 0.37 4\\ 4.0 0.32 4\\ 4.8 0.28 4\\ 5.0 0.2 4\\ 5.2 0.1 4\\ 6.5 0.32 4\\ 9.2 0.62 4\\ 10.3 0.26 4\\ 10.6 0.26 4\\ 10.8 0.35 4\\ 11.1 0.35 4\\ 11.3 0.3 4\\ 11.5 0.28 4\\ 2.8 -0.1 4\\ 3.2 -0.1 4\\ 3.5 -0.14 4\\ 3.8 -0.2 4\\ 3.9 -0.25 4\\ 4.2 -0.27 4\\ 4.5 -0.3 4\\ 4.7 -0.25 4\\ 3.7 -0.22 4\\
2.6 -0.17 25\\ 3.2 -0.2 25\\ 2.7 -0.25 25\\ 3.5 -0.23 25\\ 4.3 -0.13 25\\ 4.7 -0.15 25\\ 2.8 -0.3 23\\ 2.5 -0.33 23\\ 2.2 -0.37 23\\ 5.0 -0.08 23\\ 5.8 -0.05 23\\ 6.2 -0.05 23\\ 6.5 -0.1 23\\ 6.7 -0.12 23\\ 5.5 -0.15 23\\ 5.2 -0.2 25\\ 5.6 -0.22 25\\ 2.2 -0.4 19\\ 3.5 -0.01 19\\ 4.8 -0.12 19\\ 5.5 -0.3 19\\ 6.0 -0.3 19\\ 6.7 -0.25 19\\ 7.1 -0.25 19\\ 7.5 -0.28 19\\ 7.9 -0.28 19\\ 8.3 -0.28 19\\ 8.7 -0.28 19\\ 7.5 -0.16 19\\ 7.9 -0.16 19\\ 8.3 -0.16 19\\ 8.8 -0.13 19\\ 9.2 -0.13 19\\ 9.6 -0.13 19\\ 10.0 -0.13 19\\ 10.4 -0.13 19\\ 8.5 -0.2 19\\ 8.8 -0.38 19\\
2.1 -0.37 30\\ 2.5 -0.37 30\\ 4.2 -0.4 30\\ 4.6 -0.4 30\\ 4.1 -0.37 30\\ 4.8 -0.31 30\\ 5.2 0.0 30\\ 5.5 0.0 30\\ 5.3 -0.37 30\\ 5.0 -0.4 30\\ 5.5 -0.4 30\\ 6.0 -0.4 30\\ 7.3 -0.37 30\\ 7.7 -0.37 30\\ 8.1 -0.37 30\\ 8.5 -0.37 30\\ 9.0 -0.37 30\\ 9.4 -0.37 30\\ 9.8 -0.37 30\\ 11.0 -0.4 30\\ 11.4 -0.4 30\\ 11.8 -0.4 30\\ 12.0 -0.05 30\\ 12.4 -0.05 30\\ 12.8 -0.05 30\\ 13.2 -0.05 30\\ 13.6 -0.05 30\\ 13.8 -0.1 30\\ 14.2 -0.1 30\\ 15.5 -0.22 30\\ 15.9 -0.22 30\\ 16.3 -0.22 30\\ 16.8 -0.25 30\\ 17.2 -0.25 30\\ 17.6 -0.25 30\\ 17.0 -0.37 30\\ 17.4 -0.37 30\\ 17.8 -0.37 30\\ 18.8 -0.32 30\\ 19.2 -0.32 30\\ 19.8 -0.25 30\\ 20.2 -0.25 30\\ 20.5 -0.25 30\\ 20.0 -0.4 30\\ 20.4 -0.4 30\\ 20.8 -0.4 30\\ 22.7 -0.37 30\\ 23.1 -0.37 30\\ 23.5 -0.37 30\\ 23.9 -0.37 30\\ 12.8 -0.37 30\\ 10.0 -0.4 26\\ 10.4 -0.4 26\\ 9.8 -0.37 26\\ 6.7 -0.4 8\\ 7.0 -0.4 8\\ 9.5 -0.3 8\\ 9.8 -0.25 8\\ 12.2 -0.37 8\\ 10.3 -0.33 8\\
10.5 0.05 19\\ 10.9 0.05 19\\ 10.8 0.0 19\\ 11.0 -0.03 19\\ 11.4 -0.03 19\\ 11.8 -0.03 19\\ 11.5 -0.05 19\\ 12.0 -0.05 19\\ 11.5 -0.15 19\\ 11.9 -0.15 19\\ 12.3 -0.15 19\\ 12.7 -0.15 19\\ 12.0 -0.2 20\\ 12.4 -0.2 20\\ 12.8 -0.2 20\\ 11.5 -0.25 19\\ 11.9 -0.25 19\\ 12.3 -0.25 19\\ 10.5 -0.3 19\\ 10.9 -0.3 19\\ 12.5 -0.1 19\\ 12.9 -0.1 19\\ 13.0 0.05 19\\ 13.3 0.14 19\\ 13.6 0.14 19\\ 13.8 0.2 19\\ 14.2 0.2 19\\ 14.6 0.2 19\\ 15.0 0.2 19\\ 15.2 0.17 19\\ 15.3 0.1 19\\ 15.5 0.07 19\\ 16.0 0.02 19\\ 16.3 -0.05 19\\ 16.5 -0.1 19\\ 17.0 -0.15 19\\ 13.8 -0.25 19\\ 14.2 -0.25 19\\ 14.6 -0.25 19\\ 15.0 -0.25 19\\ 15.0 -0.3 19\\ 15.4 -0.3 19\\ 15.5 -0.33 19\\ 15.9 -0.33 19\\ 16.2 -0.27 19\\ 13.2 -0.35 19\\ 13.6 -0.35 19\\ 14.2 -0.4 19\\ 17.7 -0.4 19\\ 18.1 -0.4 19\\ 18.5 -0.4 19\\ 18.5 -0.15 19\\ 18.9 -0.15 19\\ 19.3 -0.15 19\\ 19.5 -0.12 19\\ 19.9 -0.12 19\\ 20.3 -0.12 19\\ 19.3 -0.1 19\\ 20.5 -0.2 19\\ 20.9 -0.2 19\\ 21.0 -0.15 19\\ 21.4 -0.15 19\\ 21.8 -0.15 19\\ 21.0 -0.38 19\\ 21.3 -0.33 19\\ 21.7 -0.28 19\\ 22.3 -0.25 19\\ 22.5 -0.22 19\\ 22.9 -0.22 19\\ 23.5 -0.2 19\\ 23.9 -0.2 19\\ 22.0 -0.15 19\\ 22.4 -0.15 19\\ 22.8 -0.13 19\\
15.3 0.23 4\\ 15.7 0.2 4\\ 17.3 0.08 4\\ 17.7 0.08 4\\ 17.8 0.02 4\\ 18.2 0.02 4\\ 18.6 0.02 4\\ 19.0 0.02 4\\ 19.4 0.02 4\\ 19.8 0.02 4\\ 16.0 0.0 4\\ 16.5 -0.05 4\\ 20.2 -0.04 4\\ 20.6 -0.04 4\\ 16.5 -0.2 4\\ 17.5 -0.3 4\\ 15.0 -0.4 4\\ 15.4 -0.4 4\\ 16.5 -0.4 4\\ 18.0 -0.37 4\\ 14.0 -0.05 8\\ 15.5 -0.07 8\\ 15.9 -0.07 8\\ 16.2 -0.1 8\\ 15.8 -0.2 8\\ 20.0 -0.22 8\\ 20.4 -0.22 8\\ 20.8 -0.22 8\\ 21.5 -0.25 8\\ 21.9 -0.25 8\\ 19.0 -0.2 8\\ 22.0 -0.3 8\\ 19.5 -0.37 8\\ 23.8 -0.07 8\\ 23.5 -0.1 8\\ 23.3 -0.15 8\\ 23.2 -0.31 8\\ 23.6 -0.31 8\\ 24.0 -0.31 8\\
20.0 0.22 26\\ 20.3 0.22 26\\ 20.7 0.22 26\\ 21.0 0.25 26\\ 21.4 0.25 26\\ 21.7 0.22 26\\ 22.1 0.22 26\\ 22.5 0.22 26\\ 22.7 0.2 26\\ 23.0 0.25 26\\ 23.2 0.32 26\\ 23.5 0.32 26\\ 23.8 0.35 26\\ 14.7 -0.4 26\\ 13.5 -0.1 23\\ 16.0 -0.35 23\\ 16.6 -0.4 12\\ 16.9 -0.4 12\\ 16.8 -0.35 12\\ 11.0 -0.35 30\\ 12.0 -0.3 19\\ 9.0 -0.2 19\\ 6.0 -0.12 19\\
}\dataD

\pgfplotstableread[row sep=\\]{x y c\\
0 0.14 23\\ 0 0.05 7\\ 0.2 -0.1 4\\ 0.5 -0.1 27\\ 0.9 -0.1 27\\ 1.0 -0.01 23\\ 1.3 -0.01 23\\ 0.9 -0.05 27\\ 1.3 -0.07 27\\ 0 -0.4 30\\ 0.4 -0.4 30\\ 0.8 -0.4 30\\ 1.2 -0.4 30\\ 0 -0.37 27\\ 0.4 -0.37 27\\ 0.5 -0.33 19\\ 0 -0.29 13\\ 0.4 -0.29 13\\ 0.8 -0.29 13\\ 1.0 -0.3 30\\ 0.8 -0.22 27\\ 1.2 -0.22 27\\ 1.5 -0.15 27\\ 1.9 -0.15 27\\ 2.3 -0.15 27\\ 2.0 -0.07 4\\ 2.4 -0.07 4\\ 2.2 -0.1 4\\ 3.3 -0.04 4\\ 3.7 -0.04 4\\ 4.1 -0.04 4\\ 4.5 -0.07 4\\ 4.9 -0.07 4\\ 3.5 -0.13 30\\ 3.9 -0.13 30\\ 4.3 -0.13 30\\ 4.7 -0.13 30\\ 5.1 -0.13 30\\ 2.5 -0.15 30\\ 2.9 -0.15 30\\ 3.3 -0.15 30\\ 4.0 -0.2 30\\ 4.4 -0.2 30\\ 4.8 -0.2 30\\ 5.2 -0.2 30\\ 2.0 -0.22 7\\ 2.4 -0.22 7\\ 2.8 -0.22 7\\ 3.2 -0.22 7\\ 2.5 -0.25 4\\ 2.9 -0.25 4\\ 2.0 -0.3 13\\ 2.4 -0.3 13\\ 2.8 -0.3 13\\ 3.0 -0.28 27\\ 3.4 -0.28 27\\ 3.8 -0.28 27\\ 4.2 -0.28 27\\ 3.5 -0.37 27\\ 3.9 -0.37 27\\ 4.3 -0.37 27\\ 4.0 -0.4 7\\ 4.4 -0.4 7\\ 1.6 -0.4 30\\ 2.0 -0.4 30\\ 2.4 -0.4 30\\ 1.5 -0.34 30\\ 3.0 -0.4 27\\ 1.5 -0.25 19\\ 1.2 -0.18 19\\ 2.0 -0.35 19\\ 3.5 -0.32 19\\ 4.5 -0.33 13\\ 5.0 -0.3 19\\ 1.8 -0.2 23\\ 3.0 -0.18 23\\
5.0 0.23 13\\ 5.3 0.23 13\\ 5.8 0.17 4\\ 6.2 0.17 4\\ 6.6 0.2 7\\ 6.5 0.14 7\\ 7.2 0.17 7\\ 7.7 0.32 4\\ 7.3 0.11 13\\ 6.8 0.08 23\\ 7.0 0.08 23\\ 6.8 0.05 23\\ 6.5 0.02 23\\ 6.5 -0.02 13\\ 6.9 -0.02 13\\ 7.3 -0.02 13\\ 7.2 -0.1 7\\ 5.8 -0.15 4\\ 5.0 -0.16 30\\ 5.4 -0.16 30\\ 5.8 -0.16 30\\ 6.2 -0.16 30\\ 6.6 -0.16 30\\ 7.0 -0.16 30\\ 6.5 -0.2 27\\ 6.9 -0.2 27\\ 7.3 -0.2 27\\ 5.5 -0.25 27\\ 5.9 -0.25 27\\ 6.3 -0.25 27\\ 5.8 -0.35 30\\ 6.2 -0.35 30\\ 6.6 -0.35 30\\ 7.0 -0.3 7\\ 7.4 -0.3 7\\ 5.5 -0.4 27\\ 5.9 -0.4 27\\ 6.3 -0.4 27\\ 7.0 -0.4 30\\ 7.4 -0.4 30\\ 7.6 -0.4 19\\ 8.0 -0.4 19\\ 5.5 -0.3 19\\ 6.0 -0.3 13\\
8.3 -0.07 4\\ 8.0 -0.13 30\\ 8.4 -0.13 30\\ 8.8 -0.13 30\\ 9.2 -0.13 30\\ 9.6 -0.13 30\\ 10.0 -0.13 30\\ 8.0 -0.18 30\\ 8.4 -0.18 30\\ 8.8 -0.18 30\\ 9.2 -0.18 30\\ 8.5 -0.22 7\\ 8.5 -0.27 19\\ 8.9 -0.27 19\\ 9.3 -0.27 19\\ 9.0 -0.3 13\\ 9.4 -0.3 13\\ 9.8 -0.3 13\\ 8.0 -0.35 27\\ 8.4 -0.35 27\\ 8.8 -0.35 27\\ 9.5 -0.4 13\\ 9.9 -0.4 13\\ 10.3 -0.4 13\\ 9.7 0.08 23\\ 10.0 0.05 23\\ 10.0 -0.1 4\\ 10.4 -0.1 4\\ 10.8 -0.1 4\\ 10.9 0.28 7\\ 11.1 0.23 7\\ 11.3 0.17 19\\ 11.5 0.17 19\\ 10.9 0.11 19\\ 11.3 0.11 19\\ 11.9 0.11 19\\ 11.5 0.14 7\\ 10.5 -0.15 27\\ 10.9 -0.15 27\\ 11.3 -0.15 27\\ 11.7 -0.15 27\\ 10.5 -0.2 30\\ 10.9 -0.2 30\\ 11.3 -0.2 30\\ 11.7 -0.2 30\\ 10.0 -0.3 27\\ 10.4 -0.3 27\\ 10.8 -0.3 27\\ 10.0 -0.35 30\\ 10.4 -0.35 30\\ 10.8 -0.35 30\\ 11.2 -0.35 30\\ 11.6 -0.35 30\\ 10.5 -0.4 27\\ 10.9 -0.4 27\\ 11.3 -0.4 27\\ 11.5 0.0 4\\ 11.8 0.01 27\\ 12.2 0.01 27\\ 12.5 0.01 27\\ 11.8 -0.03 27\\ 12.0 -0.05 30\\ 12.4 -0.05 30\\ 12.8 -0.05 30\\ 12.5 -0.08 7\\ 11.0 -0.25 19\\ 9.5 -0.22 23\\
13.5 0.05 27\\ 13.9 0.05 27\\ 14.3 0.05 27\\ 14.0 0.05 23\\ 14.2 0.08 23\\ 15.0 0.05 27\\ 15.4 0.05 27\\ 15.8 0.05 27\\ 16.2 0.05 27\\ 14.0 0.02 27\\ 14.4 0.02 27\\ 14.8 0.02 27\\ 14.5 -0.01 4\\ 14.8 -0.02 30\\ 15.2 -0.02 30\\ 15.2 0.11 7\\ 15.5 0.11 7\\ 13.0 -0.1 27\\ 13.4 -0.1 27\\ 13.8 -0.1 27\\ 14.2 -0.1 27\\ 14.6 -0.1 27\\ 15.0 -0.1 27\\ 15.4 -0.1 27\\ 15.8 -0.1 27\\ 12.0 -0.15 27\\ 12.4 -0.15 27\\ 12.8 -0.15 27\\ 13.2 -0.15 27\\ 13.6 -0.15 27\\ 14.0 -0.15 27\\ 14.4 -0.15 27\\ 14.8 -0.15 27\\ 15.2 -0.15 27\\ 15.6 -0.15 27\\ 16.0 -0.15 27\\ 16.4 -0.15 27\\ 16.8 -0.15 27\\ 12.0 -0.2 30\\ 12.4 -0.2 30\\ 12.8 -0.2 30\\ 13.2 -0.2 30\\ 13.6 -0.2 30\\ 14.0 -0.2 30\\ 14.4 -0.2 30\\ 14.8 -0.2 30\\ 15.2 -0.2 30\\ 15.6 -0.2 30\\ 16.0 -0.2 30\\ 16.4 -0.2 30\\ 16.8 -0.2 30\\ 13.0 -0.25 30\\ 13.4 -0.25 30\\ 13.8 -0.25 30\\ 14.2 -0.25 30\\ 14.5 -0.25 13\\ 15.0 -0.25 30\\ 15.5 -0.25 30\\ 12.0 -0.3 30\\ 12.4 -0.3 30\\ 12.8 -0.3 30\\ 13.2 -0.3 30\\ 13.6 -0.3 30\\ 15.0 -0.35 30\\ 15.4 -0.35 30\\ 15.8 -0.35 30\\ 14.5 -0.4 13\\ 16.0 -0.4 30\\ 16.4 -0.4 30\\ 16.8 -0.4 4\\ 16.4 -0.37 19\\ 16.2 0.0 23\\ 16.2 0.05 30\\ 17.0 0.08 4\\ 17.2 0.05 7\\ 17.6 0.05 7\\ 17.8 0.02 4\\ 17.5 -0.04 7\\ 17.9 -0.04 7\\ 18.3 -0.04 7\\ 18.7 -0.04 7\\ 17.0 -0.07 23\\ 17.4 -0.07 23\\ 13.0 -0.35 19\\ 12.5 -0.4 13\\ 13.5 -0.4 27\\ 12.2 -0.25 7\\ 14.0 -0.3 19\\
17.5 -0.15 27\\ 17.9 -0.15 27\\ 18.3 -0.15 27\\ 18.7 -0.15 27\\ 19.1 -0.15 27\\ 19.5 -0.15 27\\ 19.9 -0.15 27\\ 20.3 -0.15 27\\ 20.7 -0.15 27\\ 18.0 -0.1 27\\ 18.4 -0.1 27\\ 18.0 -0.2 27\\ 18.4 -0.2 27\\ 18.8 -0.2 27\\ 19.2 -0.2 27\\ 19.6 -0.2 27\\ 20.0 -0.2 27\\ 20.4 -0.2 27\\ 20.8 -0.2 27\\ 17.5 -0.25 30\\ 17.9 -0.25 30\\ 18.3 -0.25 30\\ 18.7 -0.25 30\\ 19.1 -0.25 30\\ 19.5 -0.25 30\\ 19.9 -0.25 30\\ 18.0 -0.3 30\\ 18.4 -0.3 30\\ 18.8 -0.3 30\\ 19.2 -0.3 30\\ 19.6 -0.3 30\\ 18.5 -0.35 30\\ 18.9 -0.35 30\\ 19.3 -0.35 30\\ 19.7 -0.35 30\\ 18.0 -0.4 30\\ 18.4 -0.4 30\\ 18.8 -0.4 30\\ 19.2 -0.4 30\\ 19.6 -0.4 30\\ 17.2 -0.37 19\\ 20.0 -0.4 13\\ 20.4 -0.4 13\\ 20.8 -0.4 13\\ 20.5 -0.3 4\\ 18.5 -0.01 7\\ 18.9 -0.01 7\\ 19.2 -0.01 7\\ 19.0 0.11 13\\ 19.4 0.11 13\\ 19.8 0.11 7\\ 20.2 0.11 7\\ 20.5 0.11 7\\ 20.5 -0.28 19\\ 20.8 -0.35 19\\
21.0 -0.07 23\\ 21.3 0.0 23\\ 21.5 0.02 23\\ 21.7 0.08 23\\ 22.2 0.14 23\\ 22.5 0.14 23\\ 21.5 -0.07 27\\ 21.9 -0.07 27\\ 21.8 0.43 7\\ 22.2 0.43 7\\ 23.0 0.38 7\\ 23.3 0.28 4\\ 23.0 0.25 4\\ 22.7 0.22 7\\ 22.6 0.11 23\\ 23.0 0.08 23\\ 23.5 0.05 23\\ 23.5 0.0 23\\ 23.8 0.08 23\\ 22.0 -0.1 27\\ 22.4 -0.1 27\\ 22.8 -0.1 27\\ 23.2 -0.1 27\\ 23.6 -0.1 4\\ 24.0 -0.1 4\\ 21.0 -0.15 30\\ 21.4 -0.15 30\\ 21.8 -0.15 30\\ 22.2 -0.15 30\\ 22.6 -0.15 30\\ 21.0 -0.25 27\\ 21.4 -0.25 27\\ 21.8 -0.25 27\\ 22.2 -0.25 27\\ 22.6 -0.25 27\\ 23.0 -0.25 27\\ 23.4 -0.25 27\\ 23.8 -0.25 27\\ 23.5 -0.28 30\\ 22.5 -0.35 30\\ 22.6 -0.35 4\\ 22.8 -0.4 4\\ 23.2 -0.4 4\\ 22.0 -0.4 30\\ 22.4 -0.4 30\\ 23.5 -0.37 30\\ 24.0 -0.29 13\\ 21.2 -0.3 19\\ 21.5 -0.35 13\\ 23.0 -0.18 19\\ 24.0 -0.2 27\\ 21.0 -0.2 27\\ 22.0 -0.3 19\\
}\dataE

\pgfplotstableread[row sep=\\]{x y c\\
0 0.08 8\\ 0.4 0.08 8\\ 0 0.05 14\\ 0.4 0.05 14\\ 0.8 0.05 14\\ 1.0 0.11 4\\ 1.4 0.11 4\\ 1.8 0.11 4\\ 0 -0.2 4\\ 0 -0.03 26\\ 0.5 -0.08 26\\ 0.9 -0.08 26\\ 1.3 -0.08 26\\ 0.5 -0.12 26\\ 0.9 -0.12 26\\ 1.3 -0.12 26\\ 0 -0.28 21\\ 0.4 -0.28 21\\ 0.8 -0.28 21\\ 1.0 -0.22 19\\ 1.4 -0.22 19\\ 1.8 -0.22 19\\ 0 -0.15 23\\ 0.4 -0.15 23\\ 0.8 -0.15 23\\ 1.0 -0.4 25\\ 1.3 -0.37 25\\ 2.0 -0.35 19\\ 1.5 -0.15 8\\ 2.5 -0.1 4\\ 2.0 0.17 22\\ 2.4 0.17 22\\ 1.8 0.08 20\\ 2.2 0.05 15\\ 2.5 0.0 15\\ 3.0 -0.02 15\\ 2.8 0.11 21\\ 2.8 0.02 22\\ 3.2 0.23 4\\ 3.6 0.23 4\\ 4.0 0.23 4\\ 4.3 0.2 4\\ 4.7 0.17 4\\ 3.5 0.02 8\\ 3.9 0.02 8\\ 3.0 -0.05 26\\ 3.4 -0.05 26\\ 3.8 -0.05 26\\ 2.5 -0.1 26\\ 2.9 -0.1 26\\ 3.3 -0.1 26\\ 3.7 -0.1 26\\ 4.1 -0.1 26\\ 4.5 -0.1 26\\ 3.0 -0.17 19\\ 3.4 -0.17 19\\ 3.8 -0.17 19\\ 2.5 -0.25 19\\ 2.9 -0.25 19\\ 3.3 -0.25 19\\ 3.7 -0.25 19\\ 3.5 -0.3 4\\ 2.7 -0.37 19\\ 3.5 -0.35 23\\ 2.0 -0.25 26\\ 1.5 -0.28 19\\
4.8 0.05 22\\ 5.2 0.08 22\\ 5.5 0.14 22\\ 5.8 0.17 22\\ 6.0 0.28 22\\ 6.3 0.28 22\\ 6.6 0.25 22\\ 7.0 0.22 22\\ 7.5 0.4 20\\ 7.8 0.43 20\\ 8.2 0.43 20\\ 8.5 0.43 20\\ 8.8 0.43 20\\ 8.1 0.41 20\\ 5.5 0.0 15\\ 5.4 -0.05 15\\ 6.0 0.22 4\\ 6.4 0.22 4\\ 6.8 0.2 4\\ 7.5 0.17 4\\ 7.8 0.2 8\\ 8.0 0.23 4\\ 8.5 0.2 4\\ 8.9 0.2 4\\ 4.5 -0.15 26\\ 4.9 -0.15 26\\ 5.3 -0.15 26\\ 5.7 -0.15 26\\ 5.0 -0.2 26\\ 5.4 -0.2 26\\ 5.8 -0.2 26\\ 6.2 -0.2 26\\ 4.0 -0.25 19\\ 4.4 -0.25 19\\ 4.8 -0.25 19\\ 5.2 -0.25 19\\ 5.6 -0.25 19\\ 4.5 -0.3 19\\ 4.9 -0.3 19\\ 5.3 -0.3 19\\ 5.7 -0.3 19\\ 4.5 -0.4 26\\ 4.9 -0.4 26\\ 5.3 -0.4 26\\ 6.5 -0.4 26\\ 6.9 -0.4 26\\ 5.5 -0.35 26\\ 6.0 -0.38 19\\ 4.8 -0.18 8\\ 5.2 -0.18 8\\ 6.5 -0.2 8\\ 6.9 -0.2 8\\ 7.3 -0.2 8\\ 6.2 -0.05 19\\ 7.0 -0.1 19\\ 7.0 -0.3 26\\ 7.4 -0.3 26\\ 7.5 -0.4 4\\ 8.0 -0.4 19\\ 6.5 -0.27 19\\ 7.5 -0.25 19\\
9.2 0.62 21\\ 9.6 0.62 21\\ 10.3 0.58 22\\ 10.5 0.55 22\\ 10.7 0.7 22\\ 11.0 0.74 22\\ 11.2 0.74 22\\ 11.3 0.67 22\\ 11.6 0.59 22\\ 11.8 0.5 22\\ 12.1 0.5 22\\ 12.5 0.47 25\\ 12.8 0.43 23\\ 9.0 0.25 4\\ 9.4 0.25 4\\ 9.7 0.25 4\\ 10.0 0.2 26\\ 10.4 0.2 26\\ 11.0 0.32 4\\ 11.2 0.31 26\\ 11.5 0.22 19\\ 11.8 0.26 19\\ 8.0 -0.15 8\\ 8.4 -0.15 8\\ 8.8 -0.15 8\\ 9.2 -0.15 8\\ 9.6 -0.15 8\\ 10.0 -0.15 8\\ 8.5 -0.2 8\\ 8.9 -0.2 8\\ 9.3 -0.2 8\\ 8.5 -0.37 4\\ 8.9 -0.37 4\\ 9.3 -0.37 4\\ 9.5 -0.4 4\\ 9.9 -0.4 4\\ 9.0 -0.22 19\\ 9.4 -0.22 19\\ 9.8 -0.22 19\\ 10.2 -0.22 19\\ 10.6 -0.22 19\\ 11.0 -0.22 19\\ 8.0 -0.3 26\\ 8.4 -0.3 26\\ 8.8 -0.3 26\\ 9.2 -0.3 26\\ 9.6 -0.3 26\\ 9.5 -0.25 26\\ 9.9 -0.25 26\\ 10.3 -0.25 26\\ 9.0 -0.05 19\\ 9.4 -0.05 19\\ 9.8 -0.05 19\\ 10.2 -0.05 19\\ 9.5 0.0 19\\ 9.9 0.0 19\\ 10.5 0.08 19\\ 10.5 -0.35 8\\ 10.8 -0.35 8\\ 11.0 -0.1 26\\ 11.4 -0.1 26\\ 11.8 -0.1 26\\ 12.2 -0.1 26\\ 12.6 -0.1 26\\ 13.0 -0.1 26\\ 11.5 -0.02 19\\ 12.0 0.08 8\\ 12.0 -0.05 8\\ 12.4 -0.05 8\\ 12.8 -0.05 8\\ 12.0 -0.17 19\\ 12.4 -0.17 19\\ 12.8 -0.17 19\\ 11.5 -0.25 19\\ 11.9 -0.25 19\\ 12.3 -0.25 19\\ 12.7 -0.25 19\\ 12.0 -0.28 14\\ 12.4 -0.28 14\\ 12.8 -0.28 14\\ 13.2 -0.28 14\\ 13.6 -0.28 14\\ 12.5 0.05 14\\ 10.0 -0.1 26\\ 10.5 -0.15 19\\
13.2 0.22 25\\ 13.5 0.22 25\\ 13.5 0.17 22\\ 13.9 0.17 22\\ 14.2 0.26 25\\ 13.8 0.14 20\\ 14.2 0.14 20\\ 14.8 0.13 4\\ 15.2 0.13 4\\ 14.3 0.08 8\\ 14.5 0.05 19\\ 14.9 0.05 19\\ 15.3 0.05 19\\ 15.7 0.05 19\\ 16.1 0.05 19\\ 16.5 0.05 19\\ 16.0 0.2 8\\ 16.4 0.2 8\\ 16.5 0.17 25\\ 15.0 -0.05 26\\ 15.4 -0.05 26\\ 15.8 -0.05 26\\ 16.2 -0.05 26\\ 16.6 -0.05 26\\ 15.0 -0.08 26\\ 15.4 -0.08 26\\ 15.8 -0.08 26\\ 16.2 -0.08 26\\ 14.0 -0.12 19\\ 14.4 -0.12 19\\ 14.8 -0.12 19\\ 15.0 -0.13 8\\ 14.0 -0.2 14\\ 14.4 -0.2 14\\ 14.8 -0.2 14\\ 15.0 -0.25 13\\ 15.4 -0.25 13\\ 15.8 -0.25 13\\ 15.5 -0.3 8\\ 13.5 -0.37 4\\ 13.9 -0.37 4\\ 14.0 -0.28 4\\ 14.4 -0.28 4\\ 14.8 -0.28 4\\ 16.0 -0.15 19\\ 16.5 -0.35 8\\ 13.0 -0.05 8\\ 13.5 0.0 19\\
16.5 0.5 14\\ 16.9 0.5 14\\ 17.3 0.5 14\\ 17.7 0.47 14\\ 18.0 0.43 14\\ 18.3 0.41 14\\ 18.6 0.41 14\\ 17.5 0.2 22\\ 18.0 0.23 22\\ 18.7 0.17 21\\ 17.0 0.05 4\\ 16.8 0.05 26\\ 17.2 0.05 26\\ 17.6 0.05 26\\ 18.0 0.05 26\\ 18.4 0.05 26\\ 18.8 0.05 26\\ 17.5 -0.05 26\\ 17.9 -0.05 26\\ 18.3 -0.05 26\\ 18.7 -0.05 26\\ 19.1 -0.05 26\\ 19.5 -0.05 26\\ 19.9 -0.05 26\\ 17.5 -0.1 19\\ 17.9 -0.1 19\\ 18.3 -0.1 19\\ 18.7 -0.1 19\\ 19.1 -0.1 19\\ 19.5 -0.1 19\\ 19.9 -0.1 19\\ 17.0 -0.25 8\\ 17.4 -0.25 8\\ 17.8 -0.25 8\\ 17.0 -0.35 14\\ 17.4 -0.35 14\\ 17.8 -0.35 14\\ 18.2 -0.35 14\\ 17.5 -0.4 4\\ 17.9 -0.4 4\\ 18.3 -0.4 4\\ 18.0 -0.4 8\\ 18.5 -0.3 14\\ 18.9 -0.3 14\\ 19.3 -0.3 14\\ 19.0 -0.28 8\\ 19.5 -0.25 4\\ 19.9 -0.25 4\\ 19.0 -0.2 19\\ 19.4 -0.2 19\\ 19.8 -0.2 19\\ 19.2 0.1 23\\ 19.5 0.08 23\\ 16.8 -0.15 19\\ 17.2 -0.15 19\\ 16.5 -0.4 19\\
19.5 0.43 14\\ 19.9 0.43 14\\ 21.0 0.43 14\\ 21.3 0.41 14\\ 20.0 0.26 23\\ 20.5 0.2 23\\ 21.7 0.2 23\\ 22.3 0.28 14\\ 22.6 0.28 14\\ 23.0 0.26 14\\ 23.3 0.17 14\\ 22.2 0.14 23\\ 22.5 0.1 23\\ 20.0 0.05 26\\ 20.4 0.05 26\\ 20.8 0.05 26\\ 21.2 0.05 26\\ 21.6 0.05 26\\ 22.0 0.05 26\\ 22.4 0.05 26\\ 22.8 0.05 26\\ 23.2 0.05 26\\ 23.6 0.05 26\\ 24.0 0.05 26\\ 20.0 -0.05 26\\ 20.4 -0.05 26\\ 20.8 -0.05 26\\ 21.2 -0.05 26\\ 21.6 -0.05 26\\ 22.0 -0.05 26\\ 22.4 -0.05 26\\ 22.8 -0.05 26\\ 23.2 -0.05 26\\ 23.6 -0.05 26\\ 24.0 -0.05 26\\ 20.5 -0.15 19\\ 20.9 -0.15 19\\ 21.3 -0.15 19\\ 21.7 -0.15 19\\ 22.1 -0.15 19\\ 22.5 -0.15 19\\ 22.9 -0.15 19\\ 23.3 -0.15 19\\ 23.7 -0.15 19\\ 24.0 -0.15 19\\ 21.0 -0.25 19\\ 21.4 -0.25 19\\ 21.8 -0.25 19\\ 22.2 -0.25 19\\ 22.6 -0.25 19\\ 23.0 -0.25 19\\ 23.4 -0.25 19\\ 23.8 -0.28 19\\ 21.0 -0.22 8\\ 21.4 -0.22 8\\ 21.8 -0.22 8\\ 22.2 -0.22 8\\ 22.0 -0.3 8\\ 20.5 -0.25 4\\ 20.9 -0.25 4\\ 21.3 -0.3 4\\ 22.8 -0.35 8\\ 20.0 -0.4 8\\ 21.0 -0.4 8\\ 22.5 -0.4 8\\ 21.0 -0.37 14\\ 21.4 -0.37 14\\ 21.8 -0.37 14\\ 23.5 -0.25 4\\ 23.9 -0.25 4\\ 20.5 -0.1 19\\ 22.0 0.0 8\\ 23.0 -0.1 26\\ 20.0 -0.3 14\\ 21.5 0.1 26\\ 22.8 0.08 22\\
}\dataF

\pgfplotstableread[row sep=\\]{x y c\\
0 0.23 13\\ 0.1 0.05 4\\ 0.3 0.02 7\\ 0.7 -0.04 8\\ 0.3 -0.15 13\\ 0.5 -0.2 13\\ 1.0 -0.17 13\\ 1.4 -0.17 13\\ 0.2 -0.25 16\\ 0.6 -0.25 16\\ 1.0 -0.25 16\\ 1.2 -0.3 16\\ 1.6 -0.33 16\\ 1.8 -0.37 16\\ 2.0 -0.4 16\\ 0 -0.35 7\\ 1.9 0.05 4\\ 2.3 0.02 4\\ 2.7 0.02 4\\ 2.4 -0.04 9\\ 2.8 -0.04 9\\ 3.2 -0.04 9\\ 2.5 -0.15 13\\ 2.9 -0.15 13\\ 3.3 -0.15 13\\ 3.3 -0.22 9\\ 3.6 -0.22 9\\ 2.5 -0.27 13\\ 2.9 -0.27 13\\ 2.5 -0.3 16\\ 3.1 -0.28 14\\ 3.0 -0.37 16\\ 3.4 -0.37 16\\ 3.8 -0.37 16\\ 4.2 -0.37 16\\ 3.3 0.08 4\\ 3.6 0.08 4\\ 3.2 0.14 5\\ 3.6 0.14 5\\ 4.0 0.14 5\\ 4.4 0.14 5\\ 4.8 0.14 5\\ 4.3 0.11 4\\ 4.5 0.05 4\\ 3.5 -0.1 9\\ 3.9 -0.1 9\\ 4.2 -0.1 9\\ 4.3 -0.05 13\\ 4.5 -0.15 13\\ 4.3 -0.35 16\\ 4.7 -0.32 16\\ 1.5 -0.1 9\\
5.3 0.11 4\\ 5.0 0.02 8\\ 5.0 -0.1 9\\ 5.4 -0.1 9\\ 5.5 -0.15 9\\ 5.3 -0.22 13\\ 5.7 -0.22 13\\ 6.0 -0.22 13\\ 5.5 -0.3 13\\ 5.9 -0.3 13\\ 6.3 -0.3 13\\ 5.5 -0.37 16\\ 5.9 -0.37 16\\ 5.8 0.05 4\\ 6.2 0.05 4\\ 5.5 -0.04 4\\ 5.9 -0.04 4\\ 6.5 0.02 4\\ 6.9 0.02 4\\ 7.3 0.02 4\\ 6.5 -0.1 9\\ 6.9 -0.1 9\\ 7.3 -0.1 9\\ 6.0 -0.13 13\\ 6.5 -0.2 14\\ 6.9 -0.2 14\\ 7.3 -0.2 14\\ 6.8 -0.25 16\\ 7.2 -0.25 16\\ 7.0 0.14 13\\ 7.5 0.08 13\\ 7.5 -0.28 16\\ 8.0 -0.33 16\\ 8.2 -0.37 16\\ 7.0 0.0 8\\
7.5 0.2 13\\ 7.9 0.2 13\\ 8.3 0.2 13\\ 7.8 0.23 13\\ 8.2 0.23 13\\ 7.6 0.14 13\\ 7.6 0.05 4\\ 8.0 0.05 4\\ 8.4 0.05 4\\ 8.5 0.02 4\\ 8.9 0.02 4\\ 8.0 -0.1 9\\ 8.4 -0.1 9\\ 8.8 -0.1 9\\ 9.2 -0.1 9\\ 8.5 -0.05 13\\ 8.0 -0.15 14\\ 8.4 -0.15 14\\ 8.8 -0.15 14\\ 8.0 -0.22 16\\ 8.4 -0.22 16\\ 8.8 -0.22 16\\ 8.6 0.47 11\\ 8.9 0.47 11\\ 9.2 0.47 11\\ 9.5 0.2 13\\ 9.9 0.2 13\\ 9.2 0.23 13\\ 9.5 0.1 4\\ 9.9 0.1 4\\ 10.3 0.1 4\\ 9.8 0.14 4\\ 10.2 0.14 4\\ 9.5 -0.05 9\\ 9.9 -0.05 9\\ 10.3 -0.05 9\\ 9.5 -0.1 13\\ 9.3 -0.28 16\\ 9.7 -0.28 16\\ 9.5 -0.17 16\\
10.0 0.32 13\\ 10.4 0.32 13\\ 10.7 0.26 4\\ 10.3 0.2 13\\ 11.0 0.14 4\\ 11.4 0.14 4\\ 11.5 0.23 13\\ 11.9 0.23 13\\ 11.5 0.14 13\\ 11.0 0.55 11\\ 11.3 0.55 11\\ 10.0 -0.22 16\\ 10.4 -0.22 16\\ 10.8 -0.22 16\\ 11.2 -0.22 16\\ 11.6 -0.22 16\\ 10.5 -0.17 14\\ 10.9 -0.17 14\\ 11.3 -0.17 14\\ 12.0 -0.16 17\\ 10.5 -0.05 16\\ 10.9 -0.05 16\\ 11.3 -0.05 16\\ 10.5 0.05 4\\ 10.9 0.05 4\\ 11.8 -0.03 13\\ 12.0 0.08 8\\ 12.0 0.02 4\\ 12.5 0.0 13\\ 10.0 -0.08 9\\
12.2 0.26 12\\ 12.6 0.26 12\\ 13.0 0.26 12\\ 13.4 0.5 12\\ 13.8 0.5 12\\ 13.0 0.22 13\\ 12.5 0.14 16\\ 12.9 0.14 16\\ 13.3 0.14 16\\ 12.8 0.1 16\\ 13.2 0.1 16\\ 13.5 0.05 4\\ 13.5 -0.02 4\\ 14.0 0.0 16\\ 14.4 0.0 16\\ 14.8 0.0 16\\ 13.5 -0.4 4\\ 14.0 0.29 13\\ 14.4 0.29 13\\ 14.8 0.29 13\\ 14.8 0.26 13\\ 15.0 0.24 13\\ 15.0 0.02 4\\ 14.8 -0.05 4\\ 15.2 -0.1 9\\ 15.5 0.2 4\\ 15.5 0.17 13\\ 13.8 0.08 9\\
15.5 0.08 13\\ 15.8 0.05 13\\ 15.5 -0.16 16\\ 15.9 -0.16 16\\ 16.3 -0.16 16\\ 15.8 -0.1 13\\ 16.0 0.05 4\\ 16.5 0.02 4\\ 16.9 0.02 4\\ 17.0 -0.05 4\\ 17.4 -0.05 4\\ 17.8 -0.05 4\\ 18.2 -0.05 4\\ 16.5 -0.1 13\\ 16.9 -0.1 13\\ 17.3 -0.1 13\\ 17.5 -0.15 13\\ 17.0 -0.25 16\\ 17.4 -0.25 16\\ 17.8 -0.25 16\\ 17.0 -0.34 7\\ 17.4 -0.34 7\\ 17.8 -0.34 7\\ 18.0 -0.37 7\\ 18.0 -0.3 13\\
18.2 0.59 7\\ 19.7 0.59 7\\ 18.3 0.08 8\\ 19.2 0.08 4\\ 18.5 -0.04 4\\ 18.9 -0.04 4\\ 19.5 0.02 4\\ 19.9 0.02 4\\ 18.5 -0.1 13\\ 18.9 -0.1 13\\ 19.3 -0.1 13\\ 18.5 -0.15 13\\ 19.0 -0.25 16\\ 19.4 -0.25 16\\ 19.8 -0.25 16\\ 19.5 -0.3 16\\ 18.5 -0.35 7\\ 18.8 -0.33 16\\ 19.5 0.02 13\\ 20.0 -0.05 13\\ 20.3 -0.02 13\\ 20.0 0.4 8\\ 20.3 0.38 8\\ 20.5 0.32 8\\ 20.8 0.29 8\\ 21.0 0.32 8\\ 21.3 0.32 8\\ 20.0 -0.15 13\\ 20.5 -0.1 13\\ 20.5 -0.12 4\\ 20.9 -0.12 4\\ 20.0 -0.37 7\\ 20.2 -0.4 7\\ 21.0 -0.3 7\\ 20.5 -0.25 16\\ 20.9 -0.25 16\\
21.5 -0.1 4\\ 21.9 -0.1 4\\ 21.3 -0.37 7\\ 21.7 -0.37 7\\ 22.0 -0.37 7\\ 21.5 -0.25 14\\ 21.9 -0.25 14\\ 22.3 -0.25 14\\ 21.5 -0.13 13\\ 22.0 0.22 8\\ 22.4 0.22 8\\ 22.5 0.26 8\\ 22.0 0.43 13\\ 22.8 0.56 11\\ 23.1 0.56 11\\ 23.3 0.43 13\\ 23.6 0.43 13\\ 24.0 0.4 13\\ 22.5 -0.3 13\\ 23.0 -0.35 13\\ 22.8 -0.28 13\\ 23.0 -0.13 4\\ 23.4 -0.13 4\\ 23.8 -0.13 4\\ 23.0 -0.4 7\\ 23.4 -0.4 7\\ 23.5 -0.25 13\\ 23.9 -0.25 13\\ 24.0 -0.3 13\\ 24.0 -0.35 7\\
}\dataG

\begin{document}
\begin{tikzpicture}
\path[use as bounding box] (0pt,0pt) rectangle (600pt,-627pt);

% ---------- a) September
\begin{axis}[panel, at={(45.5pt,-48.35pt)},
  extra description/.code={
    \node[anchor=center,font=\lbl] at (0.51,1.29) {Day of Month};
    \node[anchor=west,inner sep=0pt,font=\lbl] at (0.038,0.915) {September};
    \node[anchor=west,inner sep=0pt,font=\lbl] at (-0.27,-0.178) {a)};
  }]
\addplot[pts] table[x=x,y=y,meta=c] {\dataA};
\addplot[meanline] coordinates {(0,-0.14) (0.5,-0.1) (1,-0.07) (1.5,-0.05) (2,-0.04) (2.5,-0.01) (3,0.01) (3.4,0.01) (3.8,-0.01) (4.3,-0.04) (4.7,-0.05) (5.2,-0.03) (5.8,0.01) (6.2,0.02) (6.8,0.01) (7.4,0.01) (8,0.05) (9,0.13) (10,0.21) (11,0.27) (12,0.32) (13,0.37) (13.5,0.39) (14,0.4) (14.5,0.4) (15,0.38) (15.5,0.34) (16,0.28) (16.5,0.26) (17,0.25) (17.5,0.2) (18,0.08) (18.5,0.01) (19,0.01) (19.5,0.03) (20,0.03) (20.5,0.02) (21,0) (21.5,-0.01) (22,-0.02) (22.5,-0.02) (23,-0.04) (23.5,-0.07) (24,-0.12)};
\addplot[ebars] coordinates {(0,-0.147) +- (0,0.203) (1.5,-0.055) +- (0,0.165) (3,0.005) +- (0,0.285) (4.5,-0.045) +- (0,0.075) (6,0.01) +- (0,0.29) (7.5,0.01) +- (0,0.21) (9,0.12) +- (0,0.15) (10.5,0.245) +- (0,0.095) (12,0.335) +- (0,0.135) (13.5,0.405) +- (0,0.215) (15,0.39) +- (0,0.29) (16.5,0.27) +- (0,0.29) (18,0.15) +- (0,0.45) (19.5,0.035) +- (0,0.375) (21,0.01) +- (0,0.41) (22.5,-0.02) +- (0,0.2)};
\end{axis}

% ---------- b) October
\begin{axis}[panel, at={(243.85pt,-48.35pt)},
  legend style={draw=none, fill=none, inner sep=0pt, font=\lbl, at={(0.021,0.915)}, anchor=west, legend cell align=left},
  legend image code/.code={\draw[#1] plot coordinates {(0pt,0pt)};},
  extra description/.code={
    \node[anchor=center,font=\lbl] at (0.51,1.29) {Day of Month};
    \node[anchor=west,inner sep=0pt,font=\lbl] at (-0.276,-0.178) {b)};
  }]
\addlegendimage{only marks, mark=*, mark size=2.2pt, draw=black!50, fill={rgb,255:red,255;green,175;blue,0}}
\addlegendentry{October}
\addplot[pts] table[x=x,y=y,meta=c] {\dataB};
\addplot[meanline] coordinates {(0,-0.04) (0.5,-0.06) (1,-0.08) (1.5,-0.08) (2,-0.07) (2.5,-0.07) (3,-0.075) (3.5,-0.08) (4,-0.09) (4.5,-0.1) (5,-0.11) (5.5,-0.12) (6,-0.13) (6.5,-0.14) (7,-0.14) (7.5,-0.15) (7.8,-0.16) (8.2,-0.14) (8.6,-0.1) (9,-0.05) (9.5,-0.01) (10,0.02) (10.5,0.04) (11,0.07) (11.5,0.12) (12,0.16) (12.5,0.15) (13,0.13) (13.5,0.12) (14,0.13) (14.5,0.16) (15,0.18) (15.5,0.2) (16,0.16) (16.5,0.12) (17,0.09) (17.5,0.08) (18,0.07) (18.5,0.04) (19,-0.01) (19.5,-0.03) (20,-0.02) (20.5,0) (21,0) (21.5,-0.01) (22,-0.03) (22.5,-0.05) (23,-0.06) (23.5,-0.07) (24,-0.08)};
\addplot[ebars] coordinates {(0,-0.03) +- (0,0.255) (1.5,-0.07) +- (0,0.14) (3,-0.07) +- (0,0.19) (4.5,-0.095) +- (0,0.195) (6,-0.135) +- (0,0.195) (7.5,-0.15) +- (0,0.09) (9,-0.06) +- (0,0.18) (10.5,0.05) +- (0,0.19) (12,0.16) +- (0,0.27) (13.5,0.13) +- (0,0.25) (15,0.17) +- (0,0.28) (16.5,0.14) +- (0,0.36) (18,0.075) +- (0,0.345) (19.5,-0.02) +- (0,0.17) (21,0.005) +- (0,0.295) (22.5,-0.045) +- (0,0.225)};
\end{axis}

% ---------- c) November
\begin{axis}[panel, at={(441.65pt,-48.35pt)},
  extra description/.code={
    \node[anchor=center,font=\lbl] at (0.51,1.29) {Day of Month};
    \node[anchor=west,inner sep=0pt,font=\lbl] at (0.103,0.915) {November};
    \node[anchor=west,inner sep=0pt,font=\lbl] at (-0.264,-0.178) {c)};
  }]
\addplot[pts] table[x=x,y=y,meta=c] {\dataC};
\addplot[meanline] coordinates {(0,-0.06) (0.5,0) (1,0.02) (1.5,0.02) (2,-0.02) (2.5,-0.02) (3,0) (3.5,0.01) (4,0.02) (4.5,0.02) (5,0.03) (5.5,0.02) (6,0.01) (7,0) (8,-0.005) (9,-0.005) (10,0) (11,0.01) (11.5,0.03) (12,0.05) (12.5,0.05) (13,0.04) (14,0.03) (15,0.03) (16,0.01) (17,0.01) (17.5,0.03) (18,0.03) (18.5,0.03) (19,0.02) (19.5,0.01) (20,0.03) (20.5,0.07) (21,0.1) (21.5,0.11) (22,0.09) (22.5,0.05) (23,0.0) (23.5,-0.04) (24,-0.08)};
\addplot[ebars] coordinates {(0,-0.055) +- (0,0.225) (1.5,0.015) +- (0,0.305) (3,-0.005) +- (0,0.325) (4.5,0.02) +- (0,0.29) (6,0.02) +- (0,0.31) (7.5,0) +- (0,0.31) (9,0) +- (0,0.28) (10.5,-0.01) +- (0,0.26) (12,0.045) +- (0,0.285) (13.5,0.035) +- (0,0.255) (15,0.025) +- (0,0.285) (16.5,0.005) +- (0,0.315) (18,0.035) +- (0,0.405) (19.5,0.015) +- (0,0.335) (21,0.105) +- (0,0.275) (22.5,0.05) +- (0,0.26)};
\end{axis}

% ---------- d) December
\begin{axis}[panel, at={(45.5pt,-255.35pt)},
  extra description/.code={
    \node[anchor=center,font=\lbl] at (0.51,1.29) {Day of Month};
    \node[anchor=west,inner sep=0pt,font=\lbl] at (0.038,0.911) {December};
    \node[anchor=west,inner sep=0pt,font=\lbl] at (-0.27,-0.19) {d)};
  }]
\addplot[pts] table[x=x,y=y,meta=c] {\dataD};
\addplot[meanline] coordinates {(0,0.05) (0.5,0.04) (1,0.02) (1.3,0.02) (1.6,0.05) (1.8,0.04) (2,-0.02) (2.3,-0.12) (2.6,-0.17) (2.9,-0.16) (3.2,-0.1) (3.5,-0.07) (3.9,-0.08) (4.3,-0.12) (4.6,-0.11) (5.0,-0.13) (5.5,-0.13) (6,-0.14) (6.5,-0.19) (7,-0.24) (7.5,-0.27) (8,-0.27) (8.5,-0.25) (9,-0.21) (9.5,-0.18) (10,-0.15) (10.5,-0.12) (11,-0.1) (11.5,-0.11) (12,-0.13) (12.5,-0.13) (13,-0.12) (13.5,-0.11) (14,-0.12) (14.5,-0.14) (15,-0.16) (15.5,-0.19) (16,-0.21) (16.5,-0.24) (17,-0.24) (17.5,-0.23) (18,-0.21) (18.5,-0.2) (19,-0.19) (20,-0.19) (21,-0.18) (21.5,-0.17) (22,-0.16) (22.5,-0.15) (23,-0.15) (24,-0.14)};
\addplot[ebars] coordinates {(0,0.05) +- (0,0.36) (1.5,0.045) +- (0,0.505) (3,-0.14) +- (0,0.09) (4.5,-0.1) +- (0,0.12) (6,-0.135) +- (0,0.295) (7.5,-0.265) +- (0,0.085) (9,-0.215) +- (0,0.125) (10.5,-0.135) +- (0,0.245) (12,-0.125) +- (0,0.155) (13.5,-0.11) +- (0,0.18) (15,-0.165) +- (0,0.215) (16.5,-0.225) +- (0,0.125) (18,-0.21) +- (0,0.13) (19.5,-0.185) +- (0,0.165) (21,-0.175) +- (0,0.205) (22.5,-0.15) +- (0,0.21)};
\end{axis}

% ---------- e) January
\begin{axis}[panel, at={(243.85pt,-255.35pt)},
  extra description/.code={
    \node[anchor=center,font=\lbl] at (0.51,1.29) {Day of Month};
    \node[anchor=west,inner sep=0pt,font=\lbl] at (0.056,0.911) {January};
    \node[anchor=west,inner sep=0pt,font=\lbl] at (-0.276,-0.19) {e)};
  }]
\addplot[pts] table[x=x,y=y,meta=c] {\dataE};
\addplot[meanline] coordinates {(0,-0.26) (0.5,-0.26) (1,-0.25) (1.5,-0.25) (2,-0.26) (2.5,-0.27) (3,-0.27) (3.5,-0.27) (4,-0.26) (4.5,-0.25) (5,-0.25) (5.5,-0.24) (6,-0.21) (6.5,-0.18) (7,-0.17) (7.5,-0.2) (8,-0.23) (8.5,-0.25) (9,-0.26) (9.5,-0.26) (10,-0.25) (10.5,-0.23) (11,-0.22) (11.5,-0.21) (12,-0.2) (12.5,-0.2) (13,-0.2) (13.5,-0.19) (14,-0.18) (15,-0.18) (16,-0.18) (17,-0.17) (17.5,-0.18) (18,-0.2) (18.5,-0.2) (19,-0.2) (20,-0.21) (21,-0.21) (21.5,-0.19) (22,-0.16) (22.5,-0.15) (23,-0.15) (24,-0.15)};
\addplot[ebars] coordinates {(0,-0.255) +- (0,0.185) (1.5,-0.255) +- (0,0.115) (3,-0.27) +- (0,0.1) (4.5,-0.255) +- (0,0.125) (6,-0.225) +- (0,0.105) (7.5,-0.195) +- (0,0.195) (9,-0.26) +- (0,0.1) (10.5,-0.235) +- (0,0.095) (12,-0.195) +- (0,0.145) (13.5,-0.195) +- (0,0.115) (15,-0.175) +- (0,0.125) (16.5,-0.17) +- (0,0.11) (18,-0.2) +- (0,0.1) (19.5,-0.2) +- (0,0.11) (21,-0.21) +- (0,0.1) (22.5,-0.145) +- (0,0.175)};
\end{axis}

% ---------- f) February
\begin{axis}[panel, at={(441.65pt,-255.35pt)},
  extra description/.code={
    \node[anchor=center,font=\lbl] at (0.51,1.29) {Day of Month};
    \node[anchor=west,inner sep=0pt,font=\lbl] at (0.099,0.911) {February};
    \node[anchor=west,inner sep=0pt,font=\lbl] at (-0.271,-0.19) {f)};
  }]
\addplot[pts] table[x=x,y=y,meta=c] {\dataF};
\addplot[meanline] coordinates {(0,-0.12) (0.5,-0.13) (1,-0.13) (1.5,-0.13) (2,-0.13) (2.5,-0.14) (3,-0.15) (3.5,-0.15) (4,-0.17) (4.5,-0.21) (4.8,-0.22) (5.2,-0.21) (5.5,-0.19) (6,-0.18) (6.5,-0.17) (7,-0.17) (7.5,-0.16) (8,-0.14) (8.5,-0.13) (9,-0.15) (9.5,-0.16) (10,-0.12) (10.5,-0.08) (11,-0.05) (11.5,-0.03) (12,-0.03) (12.5,-0.04) (13,-0.06) (13.5,-0.08) (14,-0.09) (14.5,-0.1) (15,-0.1) (15.5,-0.09) (16,-0.07) (16.5,-0.05) (17,-0.05) (17.5,-0.04) (18,-0.05) (18.5,-0.06) (19,-0.09) (19.5,-0.1) (20,-0.11) (20.5,-0.13) (21,-0.14) (21.5,-0.13) (22,-0.11) (22.5,-0.1) (23,-0.1) (23.5,-0.11) (24,-0.12)};
\addplot[ebars] coordinates {(1.5,-0.13) +- (0,0.11) (3,-0.14) +- (0,0.11) (4.5,-0.205) +- (0,0.165) (6,-0.18) +- (0,0.21) (7.5,-0.145) +- (0,0.255) (9,-0.145) +- (0,0.175) (10.5,-0.09) +- (0,0.28) (12,-0.025) +- (0,0.245) (13.5,-0.07) +- (0,0.2) (15,-0.1) +- (0,0.15) (16.5,-0.055) +- (0,0.255) (18,-0.04) +- (0,0.22) (19.5,-0.1) +- (0,0.22) (21,-0.135) +- (0,0.225) (22.5,-0.09) +- (0,0.19)};
\end{axis}

% ---------- g) March
\begin{axis}[panel, at={(243.85pt,-462.85pt)},
  extra description/.code={
    \node[anchor=center,font=\lbl] at (0.51,1.29) {Day of Month};
    \node[anchor=west,inner sep=0pt,font=\lbl] at (0.039,0.915) {March};
    \node[anchor=west,inner sep=0pt,font=\lbl] at (-0.276,-0.207) {g)};
  }]
\addplot[pts] table[x=x,y=y,meta=c] {\dataG};
\addplot[meanline] coordinates {(0,-0.17) (0.5,-0.21) (1,-0.22) (1.5,-0.2) (2,-0.17) (2.5,-0.14) (3,-0.13) (3.5,-0.12) (4,-0.13) (4.5,-0.15) (5,-0.18) (5.3,-0.2) (5.7,-0.19) (6,-0.16) (6.5,-0.12) (7,-0.09) (7.5,-0.06) (8,-0.03) (8.5,0.0) (9,0.02) (9.5,0.0) (10,-0.02) (10.5,0.0) (11,0.04) (11.5,0.06) (12,0.05) (12.5,0.06) (13,0.08) (13.5,0.1) (14,0.12) (14.5,0.11) (15,0.06) (15.5,-0.01) (16,-0.08) (16.5,-0.14) (17,-0.18) (17.5,-0.19) (18,-0.18) (18.5,-0.15) (19,-0.1) (19.5,-0.08) (20,-0.09) (20.5,-0.11) (21,-0.13) (21.5,-0.12) (22,-0.1) (22.5,-0.09) (23,-0.08) (23.5,-0.09) (24,-0.1)};
\addplot[ebars] coordinates {(0,-0.16) +- (0,0.21) (1.5,-0.22) +- (0,0.15) (3,-0.135) +- (0,0.145) (4.5,-0.16) +- (0,0.21) (6,-0.17) +- (0,0.17) (7.5,-0.065) +- (0,0.155) (9,0.02) +- (0,0.27) (10.5,0.015) +- (0,0.185) (12,0.06) +- (0,0.04) (13.5,0.11) +- (0,0.32) (15,0.065) +- (0,0.155) (16.5,-0.115) +- (0,0.075) (18,-0.18) +- (0,0.14) (19.5,-0.09) +- (0,0.15) (21,-0.12) +- (0,0.11) (22.5,-0.11) +- (0,0.44)};
\end{axis}

\end{tikzpicture}
\end{document}
